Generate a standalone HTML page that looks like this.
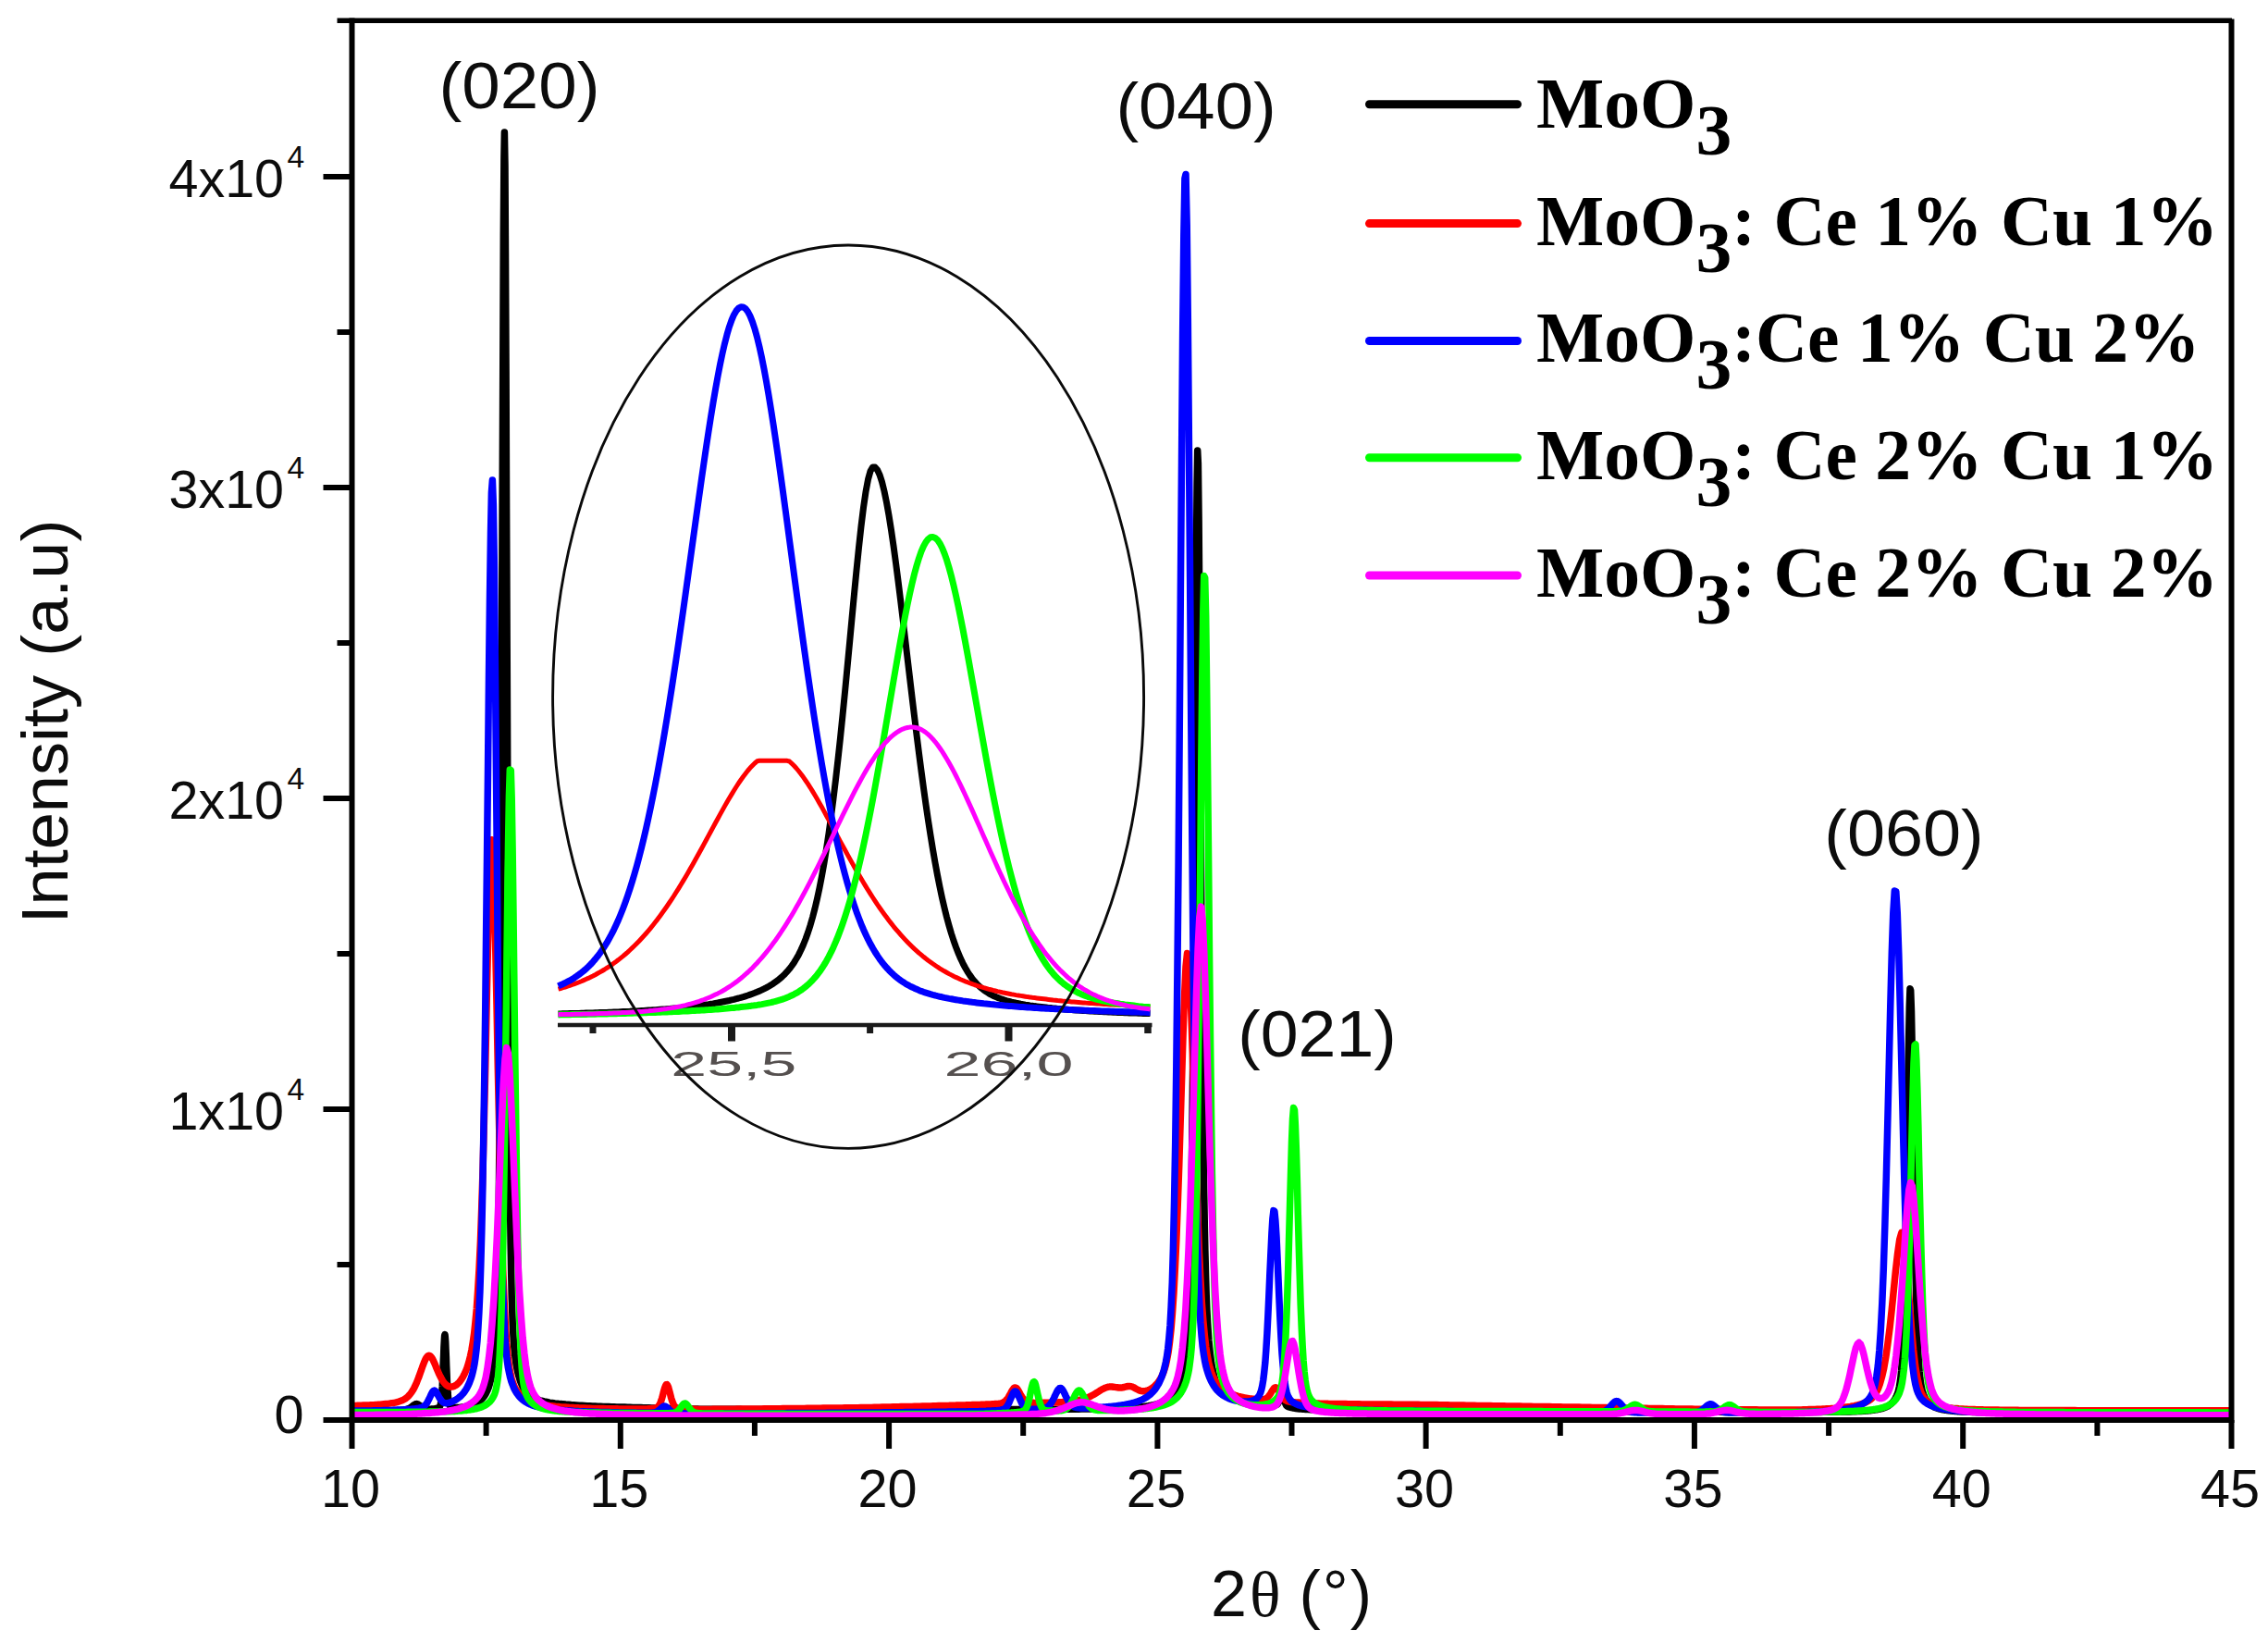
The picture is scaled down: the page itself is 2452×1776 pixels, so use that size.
<!DOCTYPE html>
<html lang="en"><head><meta charset="utf-8"><title>XRD patterns of MoO3 : Ce, Cu</title>
<style>html,body{margin:0;padding:0;background:#fff}svg{display:block}text{font-family:"Liberation Sans",Arial,sans-serif;fill:#0c0c0c}.lg{font-family:"Liberation Serif","Times New Roman",serif;font-weight:bold;font-size:77.6px;fill:#000}</style></head><body>
<svg width="2452" height="1776" viewBox="0 0 2452 1776">
<rect width="2452" height="1776" fill="#ffffff"/>
<g id="inset">
<path d="M603.5,1096.0 606.0,1095.9 608.5,1095.8 611.0,1095.8 613.5,1095.7 616.0,1095.6 618.5,1095.6 621.0,1095.5 623.5,1095.4 626.0,1095.4 628.5,1095.3 631.0,1095.2 633.5,1095.1 636.0,1095.1 638.5,1095.0 641.0,1094.9 643.5,1094.8 646.0,1094.7 648.5,1094.6 651.0,1094.6 653.5,1094.5 656.0,1094.4 658.5,1094.3 661.0,1094.2 663.5,1094.1 666.0,1094.0 668.5,1093.9 671.0,1093.7 673.5,1093.6 676.0,1093.5 678.5,1093.4 681.0,1093.3 683.5,1093.1 686.0,1093.0 688.5,1092.9 691.0,1092.7 693.5,1092.6 696.0,1092.5 698.5,1092.3 701.0,1092.1 703.5,1092.0 706.0,1091.8 708.5,1091.7 711.0,1091.5 713.5,1091.3 716.0,1091.1 718.5,1090.9 721.0,1090.7 723.5,1090.5 726.0,1090.3 728.5,1090.1 731.0,1089.9 733.5,1089.6 736.0,1089.4 738.5,1089.1 741.0,1088.9 743.5,1088.6 746.0,1088.3 748.5,1088.0 751.0,1087.7 753.5,1087.4 756.0,1087.1 758.5,1086.8 761.0,1086.4 763.5,1086.0 766.0,1085.7 768.5,1085.3 771.0,1084.9 773.5,1084.4 776.0,1084.0 778.5,1083.5 781.0,1083.0 783.5,1082.5 786.0,1082.0 788.5,1081.5 791.0,1080.9 793.5,1080.3 796.0,1079.6 798.5,1079.0 801.0,1078.3 803.5,1077.6 806.0,1076.8 808.5,1076.0 811.0,1075.1 813.5,1074.2 816.0,1073.3 818.5,1072.3 821.0,1071.2 823.5,1070.1 826.0,1068.9 828.5,1067.6 831.0,1066.2 833.5,1064.7 836.0,1063.2 838.5,1061.4 841.0,1059.6 843.5,1057.5 846.0,1055.3 848.5,1052.9 851.0,1050.2 853.5,1047.3 856.0,1044.0 858.5,1040.4 861.0,1036.3 863.5,1031.9 866.0,1026.8 868.5,1021.2 871.0,1015.0 873.5,1008.0 876.0,1000.3 878.5,991.6 881.0,982.0 883.5,971.4 886.0,959.7 888.5,946.9 891.0,932.8 893.5,917.4 896.0,900.8 898.5,882.7 901.0,863.4 903.5,842.7 906.0,820.7 908.5,797.5 911.0,773.2 913.5,748.0 916.0,721.9 918.5,695.4 921.0,668.7 923.5,642.2 926.0,616.4 928.5,591.8 931.0,569.0 933.5,548.8 936.0,531.7 938.5,518.3 941.0,509.3 943.5,504.9 946.0,505.0 948.5,507.8 951.0,513.2 953.5,520.9 956.0,531.0 958.5,543.1 961.0,557.2 963.5,572.9 966.0,590.1 968.5,608.4 971.0,627.8 973.5,647.9 976.0,668.6 978.5,689.6 981.0,710.8 983.5,732.0 986.0,753.1 988.5,773.9 991.0,794.2 993.5,814.1 996.0,833.3 998.5,851.9 1001.0,869.7 1003.5,886.7 1006.0,902.8 1008.5,918.1 1011.0,932.5 1013.5,946.0 1016.0,958.6 1018.5,970.4 1021.0,981.2 1023.5,991.3 1026.0,1000.5 1028.5,1009.0 1031.0,1016.8 1033.5,1023.8 1036.0,1030.2 1038.5,1036.1 1041.0,1041.3 1043.5,1046.0 1046.0,1050.3 1048.5,1054.1 1051.0,1057.6 1053.5,1060.7 1056.0,1063.4 1058.5,1065.9 1061.0,1068.1 1063.5,1070.1 1066.0,1071.8 1068.5,1073.4 1071.0,1074.9 1073.5,1076.2 1076.0,1077.3 1078.5,1078.4 1081.0,1079.3 1083.5,1080.2 1086.0,1081.0 1088.5,1081.8 1091.0,1082.4 1093.5,1083.1 1096.0,1083.6 1098.5,1084.2 1101.0,1084.7 1103.5,1085.2 1106.0,1085.6 1108.5,1086.1 1111.0,1086.5 1113.5,1086.9 1116.0,1087.2 1118.5,1087.6 1121.0,1087.9 1123.5,1088.2 1126.0,1088.5 1128.5,1088.8 1131.0,1089.1 1133.5,1089.4 1136.0,1089.6 1138.5,1089.9 1141.0,1090.1 1143.5,1090.4 1146.0,1090.6 1148.5,1090.8 1151.0,1091.0 1153.5,1091.2 1156.0,1091.4 1158.5,1091.6 1161.0,1091.8 1163.5,1092.0 1166.0,1092.1 1168.5,1092.3 1171.0,1092.5 1173.5,1092.6 1176.0,1092.8 1178.5,1092.9 1181.0,1093.1 1183.5,1093.2 1186.0,1093.3 1188.5,1093.5 1191.0,1093.6 1193.5,1093.7 1196.0,1093.8 1198.5,1094.0 1201.0,1094.1 1203.5,1094.2 1206.0,1094.3 1208.5,1094.4 1211.0,1094.5 1213.5,1094.6 1216.0,1094.7 1218.5,1094.8 1221.0,1094.9 1223.5,1095.0 1226.0,1095.1 1228.5,1095.1 1231.0,1095.2 1233.5,1095.3 1236.0,1095.4 1238.5,1095.5 1241.0,1095.5 1243.5,1095.6" fill="none" stroke="#000000" stroke-width="7.0" stroke-linejoin="round"/>
<path d="M603.5,1069.2 606.0,1068.5 608.5,1067.7 611.0,1067.0 613.5,1066.2 616.0,1065.4 618.5,1064.5 621.0,1063.6 623.5,1062.7 626.0,1061.7 628.5,1060.7 631.0,1059.6 633.5,1058.5 636.0,1057.4 638.5,1056.2 641.0,1055.0 643.5,1053.7 646.0,1052.3 648.5,1050.9 651.0,1049.5 653.5,1048.0 656.0,1046.4 658.5,1044.8 661.0,1043.1 663.5,1041.3 666.0,1039.5 668.5,1037.6 671.0,1035.6 673.5,1033.6 676.0,1031.5 678.5,1029.3 681.0,1027.0 683.5,1024.7 686.0,1022.3 688.5,1019.8 691.0,1017.2 693.5,1014.5 696.0,1011.8 698.5,1009.0 701.0,1006.1 703.5,1003.1 706.0,1000.0 708.5,996.8 711.0,993.6 713.5,990.2 716.0,986.8 718.5,983.3 721.0,979.7 723.5,976.0 726.0,972.3 728.5,968.5 731.0,964.5 733.5,960.6 736.0,956.5 738.5,952.4 741.0,948.2 743.5,943.9 746.0,939.6 748.5,935.2 751.0,930.8 753.5,926.3 756.0,921.8 758.5,917.2 761.0,912.6 763.5,908.0 766.0,903.4 768.5,898.8 771.0,894.1 773.5,889.5 776.0,885.0 778.5,880.4 781.0,875.9 783.5,871.4 786.0,867.1 788.5,862.8 791.0,858.6 793.5,854.5 796.0,850.5 798.5,846.7 801.0,843.0 803.5,839.5 806.0,836.2 808.5,833.0 811.0,830.1 813.5,827.5 816.0,825.0 818.5,822.8 821.0,822.3 823.5,822.3 826.0,822.3 828.5,822.3 831.0,822.3 833.5,822.3 836.0,822.3 838.5,822.3 841.0,822.3 843.5,822.3 846.0,822.3 848.5,822.3 851.0,822.3 853.5,823.0 856.0,825.3 858.5,827.8 861.0,830.5 863.5,833.5 866.0,836.7 868.5,840.1 871.0,843.7 873.5,847.4 876.0,851.3 878.5,855.4 881.0,859.5 883.5,863.8 886.0,868.2 888.5,872.6 891.0,877.1 893.5,881.7 896.0,886.3 898.5,890.9 901.0,895.6 903.5,900.3 906.0,904.9 908.5,909.6 911.0,914.2 913.5,918.8 916.0,923.4 918.5,927.9 921.0,932.4 923.5,936.9 926.0,941.3 928.5,945.6 931.0,949.8 933.5,954.0 936.0,958.1 938.5,962.2 941.0,966.1 943.5,970.0 946.0,973.8 948.5,977.6 951.0,981.2 953.5,984.8 956.0,988.2 958.5,991.6 961.0,994.9 963.5,998.1 966.0,1001.3 968.5,1004.3 971.0,1007.2 973.5,1010.1 976.0,1012.9 978.5,1015.6 981.0,1018.2 983.5,1020.7 986.0,1023.2 988.5,1025.6 991.0,1027.8 993.5,1030.1 996.0,1032.2 998.5,1034.3 1001.0,1036.3 1003.5,1038.2 1006.0,1040.0 1008.5,1041.8 1011.0,1043.5 1013.5,1045.2 1016.0,1046.8 1018.5,1048.3 1021.0,1049.8 1023.5,1051.2 1026.0,1052.6 1028.5,1053.9 1031.0,1055.2 1033.5,1056.4 1036.0,1057.5 1038.5,1058.7 1041.0,1059.7 1043.5,1060.8 1046.0,1061.7 1048.5,1062.7 1051.0,1063.6 1053.5,1064.5 1056.0,1065.3 1058.5,1066.1 1061.0,1066.9 1063.5,1067.7 1066.0,1068.4 1068.5,1069.1 1071.0,1069.7 1073.5,1070.4 1076.0,1071.0 1078.5,1071.6 1081.0,1072.1 1083.5,1072.7 1086.0,1073.2 1088.5,1073.7 1091.0,1074.2 1093.5,1074.7 1096.0,1075.1 1098.5,1075.6 1101.0,1076.0 1103.5,1076.4 1106.0,1076.8 1108.5,1077.2 1111.0,1077.6 1113.5,1077.9 1116.0,1078.3 1118.5,1078.6 1121.0,1078.9 1123.5,1079.2 1126.0,1079.5 1128.5,1079.8 1131.0,1080.1 1133.5,1080.4 1136.0,1080.7 1138.5,1081.0 1141.0,1081.2 1143.5,1081.5 1146.0,1081.7 1148.5,1082.0 1151.0,1082.2 1153.5,1082.4 1156.0,1082.6 1158.5,1082.9 1161.0,1083.1 1163.5,1083.3 1166.0,1083.5 1168.5,1083.7 1171.0,1083.9 1173.5,1084.1 1176.0,1084.2 1178.5,1084.4 1181.0,1084.6 1183.5,1084.8 1186.0,1084.9 1188.5,1085.1 1191.0,1085.3 1193.5,1085.4 1196.0,1085.6 1198.5,1085.7 1201.0,1085.9 1203.5,1086.0 1206.0,1086.2 1208.5,1086.3 1211.0,1086.5 1213.5,1086.6 1216.0,1086.7 1218.5,1086.9 1221.0,1087.0 1223.5,1087.1 1226.0,1087.3 1228.5,1087.4 1231.0,1087.5 1233.5,1087.6 1236.0,1087.7 1238.5,1087.8 1241.0,1088.0 1243.5,1088.1" fill="none" stroke="#ff0000" stroke-width="5.0" stroke-linejoin="round"/>
<path d="M603.5,1065.9 606.0,1064.8 608.5,1063.7 611.0,1062.5 613.5,1061.2 616.0,1059.9 618.5,1058.4 621.0,1056.9 623.5,1055.2 626.0,1053.4 628.5,1051.5 631.0,1049.5 633.5,1047.3 636.0,1045.0 638.5,1042.5 641.0,1039.8 643.5,1036.9 646.0,1033.8 648.5,1030.5 651.0,1027.0 653.5,1023.2 656.0,1019.2 658.5,1014.8 661.0,1010.2 663.5,1005.3 666.0,1000.0 668.5,994.5 671.0,988.5 673.5,982.2 676.0,975.5 678.5,968.4 681.0,960.9 683.5,952.9 686.0,944.5 688.5,935.7 691.0,926.4 693.5,916.6 696.0,906.3 698.5,895.6 701.0,884.3 703.5,872.6 706.0,860.3 708.5,847.6 711.0,834.4 713.5,820.7 716.0,806.5 718.5,791.9 721.0,776.8 723.5,761.3 726.0,745.4 728.5,729.1 731.0,712.4 733.5,695.5 736.0,678.2 738.5,660.7 741.0,643.0 743.5,625.1 746.0,607.1 748.5,589.1 751.0,571.0 753.5,553.1 756.0,535.2 758.5,517.6 761.0,500.3 763.5,483.3 766.0,466.8 768.5,450.8 771.0,435.4 773.5,420.8 776.0,407.0 778.5,394.0 781.0,382.1 783.5,371.3 786.0,361.6 788.5,353.1 791.0,346.0 793.5,340.2 796.0,335.9 798.5,333.1 801.0,331.7 803.5,331.9 806.0,333.6 808.5,336.9 811.0,341.6 813.5,347.9 816.0,355.5 818.5,364.5 821.0,374.8 823.5,386.3 826.0,398.8 828.5,412.4 831.0,426.9 833.5,442.3 836.0,458.3 838.5,475.0 841.0,492.3 843.5,510.0 846.0,528.0 848.5,546.4 851.0,564.9 853.5,583.6 856.0,602.3 858.5,621.0 861.0,639.6 863.5,658.1 866.0,676.4 868.5,694.5 871.0,712.3 873.5,729.7 876.0,746.8 878.5,763.5 881.0,779.8 883.5,795.6 886.0,810.9 888.5,825.8 891.0,840.1 893.5,853.9 896.0,867.2 898.5,879.9 901.0,892.1 903.5,903.8 906.0,914.9 908.5,925.5 911.0,935.6 913.5,945.2 916.0,954.2 918.5,962.8 921.0,970.9 923.5,978.5 926.0,985.7 928.5,992.4 931.0,998.8 933.5,1004.7 936.0,1010.2 938.5,1015.4 941.0,1020.3 943.5,1024.8 946.0,1029.0 948.5,1032.9 951.0,1036.6 953.5,1040.0 956.0,1043.1 958.5,1046.0 961.0,1048.7 963.5,1051.2 966.0,1053.6 968.5,1055.7 971.0,1057.7 973.5,1059.6 976.0,1061.3 978.5,1062.9 981.0,1064.4 983.5,1065.8 986.0,1067.0 988.5,1068.2 991.0,1069.3 993.5,1070.4 996.0,1071.4 998.5,1072.3 1001.0,1073.1 1003.5,1073.9 1006.0,1074.7 1008.5,1075.4 1011.0,1076.0 1013.5,1076.7 1016.0,1077.3 1018.5,1077.8 1021.0,1078.4 1023.5,1078.9 1026.0,1079.4 1028.5,1079.8 1031.0,1080.3 1033.5,1080.7 1036.0,1081.1 1038.5,1081.5 1041.0,1081.9 1043.5,1082.2 1046.0,1082.6 1048.5,1082.9 1051.0,1083.3 1053.5,1083.6 1056.0,1083.9 1058.5,1084.2 1061.0,1084.5 1063.5,1084.8 1066.0,1085.0 1068.5,1085.3 1071.0,1085.6 1073.5,1085.8 1076.0,1086.1 1078.5,1086.3 1081.0,1086.5 1083.5,1086.7 1086.0,1087.0 1088.5,1087.2 1091.0,1087.4 1093.5,1087.6 1096.0,1087.8 1098.5,1088.0 1101.0,1088.2 1103.5,1088.4 1106.0,1088.5 1108.5,1088.7 1111.0,1088.9 1113.5,1089.1 1116.0,1089.2 1118.5,1089.4 1121.0,1089.6 1123.5,1089.7 1126.0,1089.9 1128.5,1090.0 1131.0,1090.2 1133.5,1090.3 1136.0,1090.4 1138.5,1090.6 1141.0,1090.7 1143.5,1090.8 1146.0,1091.0 1148.5,1091.1 1151.0,1091.2 1153.5,1091.3 1156.0,1091.4 1158.5,1091.6 1161.0,1091.7 1163.5,1091.8 1166.0,1091.9 1168.5,1092.0 1171.0,1092.1 1173.5,1092.2 1176.0,1092.3 1178.5,1092.4 1181.0,1092.5 1183.5,1092.6 1186.0,1092.7 1188.5,1092.8 1191.0,1092.9 1193.5,1093.0 1196.0,1093.0 1198.5,1093.1 1201.0,1093.2 1203.5,1093.3 1206.0,1093.4 1208.5,1093.5 1211.0,1093.5 1213.5,1093.6 1216.0,1093.7 1218.5,1093.8 1221.0,1093.8 1223.5,1093.9 1226.0,1094.0 1228.5,1094.0 1231.0,1094.1 1233.5,1094.2 1236.0,1094.2 1238.5,1094.3 1241.0,1094.4 1243.5,1094.4" fill="none" stroke="#0000ff" stroke-width="7.0" stroke-linejoin="round"/>
<path d="M603.5,1096.9 606.0,1096.8 608.5,1096.8 611.0,1096.8 613.5,1096.7 616.0,1096.7 618.5,1096.6 621.0,1096.6 623.5,1096.5 626.0,1096.5 628.5,1096.5 631.0,1096.4 633.5,1096.4 636.0,1096.3 638.5,1096.3 641.0,1096.2 643.5,1096.2 646.0,1096.1 648.5,1096.1 651.0,1096.0 653.5,1095.9 656.0,1095.9 658.5,1095.8 661.0,1095.8 663.5,1095.7 666.0,1095.7 668.5,1095.6 671.0,1095.5 673.5,1095.5 676.0,1095.4 678.5,1095.3 681.0,1095.3 683.5,1095.2 686.0,1095.1 688.5,1095.0 691.0,1095.0 693.5,1094.9 696.0,1094.8 698.5,1094.7 701.0,1094.6 703.5,1094.6 706.0,1094.5 708.5,1094.4 711.0,1094.3 713.5,1094.2 716.0,1094.1 718.5,1094.0 721.0,1093.9 723.5,1093.8 726.0,1093.7 728.5,1093.6 731.0,1093.5 733.5,1093.4 736.0,1093.2 738.5,1093.1 741.0,1093.0 743.5,1092.9 746.0,1092.7 748.5,1092.6 751.0,1092.5 753.5,1092.3 756.0,1092.2 758.5,1092.0 761.0,1091.9 763.5,1091.7 766.0,1091.6 768.5,1091.4 771.0,1091.2 773.5,1091.1 776.0,1090.9 778.5,1090.7 781.0,1090.5 783.5,1090.3 786.0,1090.1 788.5,1089.8 791.0,1089.6 793.5,1089.4 796.0,1089.1 798.5,1088.9 801.0,1088.6 803.5,1088.3 806.0,1088.1 808.5,1087.8 811.0,1087.4 813.5,1087.1 816.0,1086.7 818.5,1086.4 821.0,1086.0 823.5,1085.6 826.0,1085.1 828.5,1084.6 831.0,1084.1 833.5,1083.6 836.0,1083.0 838.5,1082.3 841.0,1081.6 843.5,1080.9 846.0,1080.1 848.5,1079.2 851.0,1078.2 853.5,1077.2 856.0,1076.0 858.5,1074.8 861.0,1073.4 863.5,1071.9 866.0,1070.3 868.5,1068.5 871.0,1066.5 873.5,1064.4 876.0,1062.0 878.5,1059.5 881.0,1056.7 883.5,1053.7 886.0,1050.4 888.5,1046.8 891.0,1042.9 893.5,1038.7 896.0,1034.1 898.5,1029.2 901.0,1023.9 903.5,1018.2 906.0,1012.1 908.5,1005.6 911.0,998.6 913.5,991.2 916.0,983.3 918.5,974.9 921.0,966.0 923.5,956.6 926.0,946.8 928.5,936.4 931.0,925.6 933.5,914.3 936.0,902.5 938.5,890.3 941.0,877.6 943.5,864.6 946.0,851.2 948.5,837.4 951.0,823.4 953.5,809.1 956.0,794.6 958.5,780.0 961.0,765.3 963.5,750.6 966.0,736.0 968.5,721.5 971.0,707.2 973.5,693.2 976.0,679.6 978.5,666.4 981.0,653.9 983.5,642.0 986.0,630.9 988.5,620.7 991.0,611.5 993.5,603.3 996.0,596.2 998.5,590.4 1001.0,585.9 1003.5,582.7 1006.0,580.8 1008.5,580.4 1011.0,581.4 1013.5,583.6 1016.0,587.2 1018.5,592.0 1021.0,598.1 1023.5,605.2 1026.0,613.5 1028.5,622.7 1031.0,632.8 1033.5,643.7 1036.0,655.3 1038.5,667.6 1041.0,680.3 1043.5,693.5 1046.0,707.0 1048.5,720.8 1051.0,734.8 1053.5,748.9 1056.0,763.0 1058.5,777.1 1061.0,791.1 1063.5,805.0 1066.0,818.8 1068.5,832.2 1071.0,845.5 1073.5,858.4 1076.0,870.9 1078.5,883.1 1081.0,895.0 1083.5,906.4 1086.0,917.4 1088.5,927.9 1091.0,938.1 1093.5,947.7 1096.0,957.0 1098.5,965.7 1101.0,974.1 1103.5,981.9 1106.0,989.4 1108.5,996.4 1111.0,1003.0 1113.5,1009.2 1116.0,1015.0 1118.5,1020.4 1121.0,1025.5 1123.5,1030.2 1126.0,1034.6 1128.5,1038.7 1131.0,1042.5 1133.5,1046.0 1136.0,1049.3 1138.5,1052.3 1141.0,1055.1 1143.5,1057.6 1146.0,1060.0 1148.5,1062.1 1151.0,1064.2 1153.5,1066.0 1156.0,1067.7 1158.5,1069.3 1161.0,1070.7 1163.5,1072.0 1166.0,1073.3 1168.5,1074.4 1171.0,1075.4 1173.5,1076.4 1176.0,1077.3 1178.5,1078.1 1181.0,1078.9 1183.5,1079.6 1186.0,1080.3 1188.5,1080.9 1191.0,1081.5 1193.5,1082.1 1196.0,1082.6 1198.5,1083.1 1201.0,1083.5 1203.5,1084.0 1206.0,1084.4 1208.5,1084.8 1211.0,1085.2 1213.5,1085.5 1216.0,1085.9 1218.5,1086.2 1221.0,1086.5 1223.5,1086.8 1226.0,1087.1 1228.5,1087.4 1231.0,1087.7 1233.5,1087.9 1236.0,1088.2 1238.5,1088.4 1241.0,1088.6 1243.5,1088.9" fill="none" stroke="#00ff00" stroke-width="7.0" stroke-linejoin="round"/>
<path d="M603.5,1096.7 606.0,1096.6 608.5,1096.6 611.0,1096.5 613.5,1096.5 616.0,1096.4 618.5,1096.4 621.0,1096.3 623.5,1096.3 626.0,1096.2 628.5,1096.2 631.0,1096.1 633.5,1096.1 636.0,1096.0 638.5,1095.9 641.0,1095.9 643.5,1095.8 646.0,1095.7 648.5,1095.6 651.0,1095.6 653.5,1095.5 656.0,1095.4 658.5,1095.3 661.0,1095.2 663.5,1095.1 666.0,1095.0 668.5,1094.9 671.0,1094.8 673.5,1094.6 676.0,1094.5 678.5,1094.4 681.0,1094.2 683.5,1094.1 686.0,1093.9 688.5,1093.8 691.0,1093.6 693.5,1093.4 696.0,1093.2 698.5,1093.0 701.0,1092.8 703.5,1092.5 706.0,1092.3 708.5,1092.0 711.0,1091.7 713.5,1091.4 716.0,1091.1 718.5,1090.7 721.0,1090.4 723.5,1090.0 726.0,1089.6 728.5,1089.2 731.0,1088.7 733.5,1088.2 736.0,1087.7 738.5,1087.1 741.0,1086.6 743.5,1085.9 746.0,1085.3 748.5,1084.6 751.0,1083.9 753.5,1083.1 756.0,1082.3 758.5,1081.4 761.0,1080.5 763.5,1079.5 766.0,1078.5 768.5,1077.5 771.0,1076.3 773.5,1075.1 776.0,1073.9 778.5,1072.6 781.0,1071.2 783.5,1069.8 786.0,1068.2 788.5,1066.6 791.0,1065.0 793.5,1063.2 796.0,1061.4 798.5,1059.5 801.0,1057.5 803.5,1055.4 806.0,1053.2 808.5,1051.0 811.0,1048.6 813.5,1046.2 816.0,1043.6 818.5,1041.0 821.0,1038.2 823.5,1035.4 826.0,1032.4 828.5,1029.4 831.0,1026.3 833.5,1023.0 836.0,1019.6 838.5,1016.2 841.0,1012.6 843.5,1009.0 846.0,1005.2 848.5,1001.3 851.0,997.4 853.5,993.3 856.0,989.2 858.5,984.9 861.0,980.6 863.5,976.2 866.0,971.6 868.5,967.0 871.0,962.4 873.5,957.6 876.0,952.8 878.5,947.9 881.0,943.0 883.5,938.0 886.0,933.0 888.5,927.9 891.0,922.8 893.5,917.6 896.0,912.5 898.5,907.3 901.0,902.1 903.5,896.9 906.0,891.7 908.5,886.6 911.0,881.4 913.5,876.3 916.0,871.3 918.5,866.3 921.0,861.3 923.5,856.4 926.0,851.7 928.5,847.0 931.0,842.4 933.5,837.9 936.0,833.5 938.5,829.3 941.0,825.2 943.5,821.3 946.0,817.5 948.5,813.9 951.0,810.5 953.5,807.3 956.0,804.2 958.5,801.4 961.0,798.8 963.5,796.4 966.0,794.3 968.5,792.4 971.0,790.7 973.5,789.3 976.0,788.1 978.5,787.2 981.0,786.5 983.5,786.1 986.0,786.0 988.5,786.2 991.0,786.7 993.5,787.5 996.0,788.6 998.5,790.1 1001.0,791.8 1003.5,793.9 1006.0,796.3 1008.5,798.9 1011.0,801.8 1013.5,805.0 1016.0,808.5 1018.5,812.2 1021.0,816.1 1023.5,820.2 1026.0,824.5 1028.5,829.0 1031.0,833.7 1033.5,838.5 1036.0,843.5 1038.5,848.6 1041.0,853.8 1043.5,859.2 1046.0,864.6 1048.5,870.1 1051.0,875.6 1053.5,881.2 1056.0,886.9 1058.5,892.6 1061.0,898.2 1063.5,903.9 1066.0,909.6 1068.5,915.3 1071.0,920.9 1073.5,926.5 1076.0,932.1 1078.5,937.6 1081.0,943.0 1083.5,948.4 1086.0,953.7 1088.5,958.9 1091.0,964.0 1093.5,969.1 1096.0,974.0 1098.5,978.8 1101.0,983.6 1103.5,988.2 1106.0,992.7 1108.5,997.1 1111.0,1001.4 1113.5,1005.5 1116.0,1009.5 1118.5,1013.5 1121.0,1017.2 1123.5,1020.9 1126.0,1024.4 1128.5,1027.9 1131.0,1031.2 1133.5,1034.3 1136.0,1037.4 1138.5,1040.3 1141.0,1043.2 1143.5,1045.9 1146.0,1048.5 1148.5,1050.9 1151.0,1053.3 1153.5,1055.6 1156.0,1057.8 1158.5,1059.8 1161.0,1061.8 1163.5,1063.7 1166.0,1065.5 1168.5,1067.2 1171.0,1068.8 1173.5,1070.3 1176.0,1071.7 1178.5,1073.1 1181.0,1074.4 1183.5,1075.6 1186.0,1076.8 1188.5,1077.9 1191.0,1078.9 1193.5,1079.9 1196.0,1080.8 1198.5,1081.7 1201.0,1082.5 1203.5,1083.3 1206.0,1084.0 1208.5,1084.7 1211.0,1085.4 1213.5,1086.0 1216.0,1086.5 1218.5,1087.1 1221.0,1087.6 1223.5,1088.0 1226.0,1088.5 1228.5,1088.9 1231.0,1089.3 1233.5,1089.7 1236.0,1090.0 1238.5,1090.3 1241.0,1090.6 1243.5,1090.9" fill="none" stroke="#ff00ff" stroke-width="5.0" stroke-linejoin="round"/>
<line x1="603.0" y1="1108" x2="1245.5" y2="1108" stroke="#1a1a1a" stroke-width="4.6"/>
<line x1="641.0" y1="1108" x2="641.0" y2="1117.0" stroke="#1a1a1a" stroke-width="7.0"/>
<line x1="791.0" y1="1108" x2="791.0" y2="1125.5" stroke="#1a1a1a" stroke-width="8.0"/>
<line x1="940.6" y1="1108" x2="940.6" y2="1117.0" stroke="#1a1a1a" stroke-width="7.0"/>
<line x1="1090.5" y1="1108" x2="1090.5" y2="1125.5" stroke="#1a1a1a" stroke-width="8.0"/>
<line x1="1241.0" y1="1108" x2="1241.0" y2="1117.0" stroke="#1a1a1a" stroke-width="7.5"/>
<text transform="translate(793.3,1163) scale(1.94,1)" text-anchor="middle" font-size="36" style="fill:#55504f">25,5</text>
<text transform="translate(1090.5,1163) scale(2.0,1)" text-anchor="middle" font-size="36" style="fill:#55504f">26,0</text>
<ellipse cx="917.1" cy="753.2" rx="319.5" ry="488.2" fill="none" stroke="#0a0a0a" stroke-width="2.9"/>
</g>
<g id="curves">
<path d="M380.5,1525.3 381.5,1525.3 382.4,1525.2 383.4,1525.2 384.4,1525.2 385.3,1525.2 386.3,1525.2 387.3,1525.2 388.2,1525.2 389.2,1525.2 390.2,1525.2 391.1,1525.2 392.1,1525.2 393.1,1525.1 394.0,1525.1 395.0,1525.1 396.0,1525.1 396.9,1525.1 397.9,1525.1 398.9,1525.1 399.9,1525.1 400.8,1525.1 401.8,1525.1 402.8,1525.0 403.7,1525.0 404.7,1525.0 405.7,1525.0 406.6,1525.0 407.6,1525.0 408.6,1525.0 409.5,1525.0 410.5,1524.9 411.5,1524.9 412.4,1524.9 413.4,1524.9 414.4,1524.9 415.3,1524.9 416.3,1524.9 417.3,1524.8 418.2,1524.8 419.2,1524.8 420.2,1524.8 421.1,1524.8 422.1,1524.7 423.1,1524.7 424.0,1524.7 425.0,1524.7 426.0,1524.6 426.9,1524.6 427.9,1524.6 428.9,1524.5 429.8,1524.5 430.8,1524.5 431.8,1524.4 432.8,1524.4 433.7,1524.3 434.7,1524.2 435.7,1524.2 436.6,1524.1 437.6,1523.9 438.6,1523.7 439.5,1523.5 440.5,1523.2 441.5,1522.8 442.4,1522.3 443.4,1521.8 444.4,1521.1 445.3,1520.4 446.3,1519.6 447.3,1518.9 448.2,1518.3 449.2,1517.8 450.2,1517.6 451.1,1517.7 452.1,1518.1 453.1,1518.7 454.0,1519.4 455.0,1520.1 456.0,1520.8 456.9,1521.4 457.3,1521.6 457.6,1521.8 458.0,1521.9 458.3,1522.1 458.7,1522.2 459.0,1522.3 459.4,1522.5 459.7,1522.6 460.1,1522.7 460.4,1522.8 460.8,1522.8 461.1,1522.9 461.5,1523.0 461.8,1523.0 462.2,1523.0 462.5,1523.1 462.9,1523.1 463.2,1523.1 463.6,1523.2 463.9,1523.2 464.3,1523.2 464.6,1523.2 465.0,1523.2 465.3,1523.2 465.7,1523.2 466.0,1523.2 466.3,1523.1 466.7,1523.1 467.0,1523.1 467.4,1523.1 467.7,1523.1 468.1,1523.0 468.4,1523.0 468.8,1523.0 469.1,1522.9 469.5,1522.9 469.8,1522.8 470.2,1522.8 470.5,1522.7 470.9,1522.6 471.2,1522.6 471.6,1522.5 471.9,1522.4 472.3,1522.3 472.6,1522.2 473.0,1522.1 473.3,1521.9 473.7,1521.8 474.0,1521.6 474.4,1521.3 474.7,1521.1 475.1,1520.7 475.4,1520.3 475.8,1519.6 476.1,1518.7 476.4,1517.4 476.8,1515.5 477.1,1512.9 477.5,1509.4 477.8,1504.8 478.2,1498.9 478.5,1491.8 478.9,1483.5 479.2,1474.4 479.6,1465.0 479.9,1456.2 480.3,1448.9 480.6,1444.0 481.0,1442.6 481.3,1444.8 481.7,1450.2 482.0,1458.0 482.4,1467.0 482.7,1476.3 483.1,1485.2 483.4,1493.2 483.8,1500.0 484.1,1505.6 484.5,1509.9 484.8,1513.2 485.2,1515.5 485.5,1517.2 485.9,1518.4 486.2,1519.2 486.6,1519.8 486.9,1520.2 487.2,1520.4 487.6,1520.7 487.9,1520.8 488.3,1521.0 488.6,1521.1 489.0,1521.2 489.3,1521.3 489.7,1521.4 490.0,1521.4 490.4,1521.5 490.7,1521.5 491.1,1521.5 491.4,1521.6 491.8,1521.6 492.1,1521.6 492.5,1521.6 492.8,1521.6 493.2,1521.6 493.5,1521.6 493.9,1521.6 494.2,1521.6 494.6,1521.6 494.9,1521.5 495.3,1521.5 495.6,1521.5 496.0,1521.5 496.3,1521.5 496.7,1521.4 497.0,1521.4 497.3,1521.4 497.7,1521.3 498.0,1521.3 498.4,1521.3 498.7,1521.2 499.1,1521.2 499.4,1521.1 499.8,1521.1 500.1,1521.0 500.5,1521.0 500.8,1520.9 501.2,1520.9 501.5,1520.8 501.9,1520.8 502.2,1520.7 502.6,1520.7 502.9,1520.6 503.3,1520.5 503.6,1520.5 504.0,1520.4 504.3,1520.3 504.7,1520.2 505.0,1520.2 505.4,1520.1 505.9,1520.0 506.5,1519.8 507.0,1519.7 507.6,1519.5 508.1,1519.4 508.7,1519.2 509.3,1519.1 509.8,1518.9 510.4,1518.7 510.9,1518.5 511.5,1518.3 512.0,1518.1 512.6,1517.8 513.2,1517.6 513.7,1517.3 514.3,1517.1 514.8,1516.8 515.4,1516.5 515.9,1516.2 516.5,1515.8 517.0,1515.5 517.6,1515.1 518.2,1514.7 518.7,1514.3 519.3,1513.8 519.8,1513.3 520.4,1512.8 520.9,1512.3 521.5,1511.7 522.1,1511.1 522.6,1510.4 523.2,1509.7 523.7,1508.9 524.3,1508.1 524.8,1507.2 525.4,1506.2 525.9,1505.1 526.5,1504.0 527.1,1502.7 527.6,1501.4 528.2,1499.9 528.7,1498.2 529.3,1496.4 529.8,1494.4 530.4,1492.2 531.0,1489.8 531.5,1487.1 532.1,1484.0 532.6,1480.6 533.2,1476.7 533.7,1472.3 534.3,1467.2 534.8,1461.1 535.4,1453.9 536.0,1445.0 536.5,1433.8 537.1,1419.4 537.6,1400.3 538.2,1374.8 538.7,1340.8 539.3,1295.6 539.9,1236.6 540.4,1161.2 541.0,1067.5 541.5,954.8 542.1,824.3 542.6,679.7 543.2,528.2 543.8,381.3 544.3,255.6 544.9,170.6 545.4,143.1 546.0,179.2 546.5,271.1 547.1,400.9 547.6,549.3 548.2,700.4 548.8,843.4 549.3,971.3 549.9,1081.1 550.4,1171.8 551.0,1244.5 551.5,1301.1 552.1,1344.3 552.7,1376.6 553.2,1400.7 553.8,1418.8 554.3,1432.4 554.9,1442.9 555.4,1451.2 556.0,1457.9 556.5,1463.4 557.1,1468.1 557.7,1472.2 558.2,1475.7 558.8,1478.7 559.3,1481.4 559.9,1483.7 560.4,1485.8 561.0,1488.0 561.6,1490.0 562.1,1491.7 562.7,1493.4 563.2,1494.9 563.8,1496.2 564.3,1497.5 564.9,1498.6 565.5,1499.7 566.0,1500.7 566.6,1501.6 567.1,1502.5 567.7,1503.2 568.2,1504.0 568.8,1504.7 569.3,1505.3 569.9,1505.9 570.5,1506.5 571.0,1507.0 571.6,1507.5 572.1,1507.9 572.7,1508.4 573.2,1508.8 573.8,1509.2 574.4,1509.6 574.9,1509.9 575.5,1510.2 576.0,1510.6 576.6,1510.9 577.1,1511.2 577.7,1511.4 578.2,1511.7 578.8,1511.9 579.4,1512.2 579.9,1512.4 580.5,1512.6 581.0,1512.8 581.6,1513.0 582.1,1513.2 582.7,1513.4 583.3,1513.6 583.8,1513.8 584.4,1513.9 584.9,1514.1 585.5,1514.2 588.4,1514.9 591.3,1515.5 594.2,1516.1 597.1,1516.5 600.0,1516.9 602.9,1517.2 605.8,1517.6 608.7,1517.8 611.6,1518.1 614.5,1518.3 617.4,1518.6 620.3,1518.8 623.2,1519.0 626.1,1519.2 629.0,1519.3 631.9,1519.5 634.8,1519.7 637.7,1519.8 640.6,1520.0 643.5,1520.1 646.4,1520.2 649.3,1520.3 652.2,1520.4 655.1,1520.5 658.1,1520.6 661.0,1520.7 663.9,1520.8 666.8,1520.9 669.7,1521.0 672.6,1521.0 675.5,1521.1 678.4,1521.2 681.3,1521.3 684.2,1521.4 687.1,1521.4 690.0,1521.5 692.9,1521.6 695.8,1521.7 698.7,1521.8 701.6,1521.8 704.5,1521.9 707.4,1522.0 710.3,1522.1 713.2,1522.1 716.1,1522.2 719.0,1522.3 721.9,1522.3 724.8,1522.4 727.7,1522.5 730.6,1522.5 733.5,1522.6 736.4,1522.7 739.3,1522.8 742.2,1522.8 745.1,1522.9 748.0,1523.0 750.9,1523.0 753.8,1523.1 756.7,1523.2 759.7,1523.2 762.6,1523.2 765.5,1523.2 768.4,1523.2 771.3,1523.2 774.2,1523.3 777.1,1523.3 780.0,1523.3 782.9,1523.3 785.8,1523.3 788.7,1523.3 791.6,1523.3 794.5,1523.3 797.4,1523.3 800.3,1523.3 803.2,1523.4 806.1,1523.4 809.0,1523.4 811.9,1523.4 814.8,1523.4 817.7,1523.4 820.6,1523.4 823.5,1523.4 826.4,1523.4 829.3,1523.4 832.2,1523.4 835.1,1523.4 838.0,1523.5 840.9,1523.5 843.8,1523.5 846.7,1523.5 849.6,1523.5 852.5,1523.5 855.4,1523.5 858.3,1523.5 861.3,1523.5 864.2,1523.5 867.1,1523.5 870.0,1523.5 872.9,1523.5 875.8,1523.6 878.7,1523.6 881.6,1523.6 884.5,1523.6 887.4,1523.6 890.3,1523.6 893.2,1523.6 896.1,1523.6 899.0,1523.6 901.9,1523.6 904.8,1523.6 907.7,1523.6 910.6,1523.6 913.5,1523.7 916.4,1523.7 919.3,1523.7 922.2,1523.7 925.1,1523.7 928.0,1523.7 930.9,1523.7 933.8,1523.7 936.7,1523.7 939.6,1523.7 942.5,1523.7 945.4,1523.7 948.3,1523.7 951.2,1523.7 954.1,1523.7 957.0,1523.7 959.9,1523.8 962.9,1523.8 965.8,1523.8 968.7,1523.8 971.6,1523.8 974.5,1523.7 977.4,1523.7 980.3,1523.7 983.2,1523.7 986.1,1523.7 989.0,1523.7 991.9,1523.7 994.8,1523.7 997.7,1523.7 1000.6,1523.7 1003.5,1523.7 1006.4,1523.7 1009.3,1523.7 1012.2,1523.7 1015.1,1523.7 1018.0,1523.7 1020.9,1523.7 1023.8,1523.7 1026.7,1523.7 1029.6,1523.7 1032.5,1523.7 1035.4,1523.7 1038.3,1523.7 1041.2,1523.7 1044.1,1523.7 1047.0,1523.7 1049.9,1523.7 1052.8,1523.7 1055.7,1523.7 1058.6,1523.7 1061.5,1523.7 1064.5,1523.7 1067.4,1523.6 1070.3,1523.6 1073.2,1523.6 1076.1,1523.6 1079.0,1523.6 1081.9,1523.6 1084.8,1523.6 1087.7,1523.6 1090.6,1523.6 1093.5,1523.6 1096.4,1523.6 1099.3,1523.6 1102.2,1523.6 1105.1,1523.5 1108.0,1523.5 1110.9,1523.5 1113.8,1523.5 1116.7,1523.5 1119.6,1523.5 1122.5,1523.5 1125.4,1523.5 1128.3,1523.5 1131.2,1523.4 1134.1,1523.4 1137.0,1523.4 1139.9,1523.4 1142.8,1523.4 1145.7,1523.3 1148.6,1523.3 1151.5,1523.3 1154.4,1523.3 1157.3,1523.3 1160.2,1523.2 1163.1,1523.2 1166.1,1523.2 1169.0,1523.1 1171.9,1523.1 1174.8,1523.1 1177.7,1523.0 1180.6,1523.0 1183.5,1522.9 1186.4,1522.9 1189.3,1522.8 1192.2,1522.8 1195.1,1522.7 1198.0,1522.6 1200.9,1522.5 1203.8,1522.4 1206.7,1522.3 1209.6,1522.2 1212.5,1522.1 1215.4,1522.0 1218.3,1521.8 1221.2,1521.7 1224.1,1521.5 1227.0,1521.3 1229.9,1521.1 1232.8,1520.8 1235.7,1520.5 1238.6,1520.1 1241.5,1519.7 1244.4,1519.2 1247.3,1518.6 1248.0,1518.5 1248.7,1518.3 1249.4,1518.1 1250.0,1518.0 1250.7,1517.8 1251.4,1517.6 1252.1,1517.4 1252.8,1517.2 1253.4,1517.0 1254.1,1516.7 1254.8,1516.5 1255.5,1516.3 1256.1,1516.0 1256.8,1515.7 1257.5,1515.4 1258.2,1515.1 1258.8,1514.8 1259.5,1514.4 1260.2,1514.1 1260.9,1513.7 1261.6,1513.3 1262.2,1512.8 1262.9,1512.3 1263.6,1511.8 1264.3,1511.3 1264.9,1510.8 1265.6,1510.2 1266.3,1509.5 1267.0,1508.8 1267.7,1508.1 1268.3,1507.3 1269.0,1506.4 1269.7,1505.5 1270.4,1504.5 1271.0,1503.4 1271.7,1502.2 1272.4,1500.9 1273.1,1499.5 1273.7,1498.0 1274.4,1496.3 1275.1,1494.5 1275.8,1492.5 1276.5,1490.2 1277.1,1487.7 1277.8,1485.0 1278.5,1481.9 1279.2,1478.4 1279.8,1474.5 1280.5,1470.1 1281.2,1465.0 1281.9,1459.2 1282.6,1452.3 1283.2,1444.3 1283.9,1434.5 1284.6,1422.6 1285.3,1407.8 1285.9,1389.2 1286.6,1365.4 1287.3,1335.0 1288.0,1296.3 1288.6,1247.5 1289.3,1187.0 1290.0,1113.5 1290.7,1026.5 1291.4,926.8 1292.0,817.6 1292.7,705.5 1293.4,602.2 1294.1,523.8 1294.7,487.0 1295.4,501.0 1296.1,562.2 1296.8,656.3 1297.5,766.1 1298.1,877.7 1298.8,982.4 1299.5,1075.4 1300.2,1155.1 1300.8,1221.4 1301.5,1275.3 1302.2,1318.4 1302.9,1352.4 1303.6,1379.0 1304.2,1399.9 1304.9,1416.3 1305.6,1429.4 1306.3,1440.0 1306.9,1448.8 1307.6,1456.2 1308.3,1462.4 1309.0,1467.8 1309.6,1472.6 1310.3,1476.7 1311.0,1480.4 1311.7,1483.6 1312.4,1486.5 1313.0,1489.1 1313.7,1491.5 1314.4,1493.6 1315.1,1495.5 1315.7,1497.1 1316.4,1498.5 1317.1,1499.7 1317.8,1500.8 1318.5,1501.8 1319.1,1502.8 1319.8,1503.6 1320.5,1504.3 1321.2,1505.0 1321.8,1505.6 1322.5,1506.2 1323.2,1506.7 1323.9,1507.1 1324.5,1507.5 1325.2,1507.9 1325.9,1508.2 1326.6,1508.5 1327.3,1508.9 1327.9,1509.4 1328.6,1509.8 1329.3,1510.2 1330.0,1510.6 1330.6,1511.0 1331.3,1511.3 1332.0,1511.6 1332.7,1511.9 1333.4,1512.2 1334.0,1512.5 1334.7,1512.8 1335.4,1513.0 1336.1,1513.3 1336.7,1513.5 1337.4,1513.7 1338.1,1513.9 1338.8,1514.1 1339.4,1514.3 1340.1,1514.5 1340.8,1514.7 1341.5,1514.9 1342.2,1515.0 1342.8,1515.2 1343.5,1515.3 1344.2,1515.5 1347.1,1516.0 1350.0,1516.5 1352.9,1516.9 1355.8,1517.3 1358.7,1517.6 1359.1,1517.6 1359.5,1517.7 1359.9,1517.7 1360.3,1517.8 1360.6,1517.8 1361.0,1517.8 1361.4,1517.9 1361.8,1517.9 1362.2,1517.9 1362.6,1518.0 1363.0,1518.0 1363.3,1518.0 1363.7,1518.1 1364.1,1518.1 1364.5,1518.1 1364.9,1518.2 1365.3,1518.2 1365.7,1518.2 1366.1,1518.2 1366.4,1518.3 1366.8,1518.3 1367.2,1518.3 1367.6,1518.3 1368.0,1518.4 1368.4,1518.4 1368.8,1518.4 1369.2,1518.4 1369.5,1518.5 1369.9,1518.5 1370.3,1518.5 1370.7,1518.5 1371.1,1518.6 1371.5,1518.6 1371.9,1518.6 1372.3,1518.6 1372.6,1518.6 1373.0,1518.6 1373.4,1518.7 1373.8,1518.7 1374.2,1518.7 1374.6,1518.7 1375.0,1518.7 1375.3,1518.7 1375.7,1518.7 1376.1,1518.7 1376.5,1518.7 1376.9,1518.7 1377.3,1518.7 1377.7,1518.7 1378.1,1518.7 1378.4,1518.7 1378.8,1518.6 1379.2,1518.6 1379.6,1518.5 1380.0,1518.4 1380.4,1518.3 1380.8,1518.1 1381.2,1517.8 1381.5,1517.3 1381.9,1516.7 1382.3,1516.0 1382.7,1515.0 1383.1,1513.8 1383.5,1512.3 1383.9,1510.6 1384.2,1508.8 1384.6,1507.0 1385.0,1505.4 1385.4,1504.1 1385.8,1503.3 1386.2,1503.3 1386.6,1504.0 1387.0,1505.3 1387.3,1506.9 1387.7,1508.9 1388.1,1510.8 1388.5,1512.7 1388.9,1514.4 1389.3,1515.8 1389.7,1517.0 1390.1,1518.0 1390.4,1518.7 1390.8,1519.3 1391.2,1519.7 1391.6,1520.0 1392.0,1520.3 1392.4,1520.5 1392.8,1520.6 1393.2,1520.8 1393.5,1520.9 1393.9,1521.0 1394.3,1521.1 1394.7,1521.2 1395.1,1521.3 1395.5,1521.4 1395.9,1521.5 1396.2,1521.6 1396.6,1521.7 1397.0,1521.7 1397.4,1521.8 1397.8,1521.9 1398.2,1522.0 1398.6,1522.1 1399.0,1522.1 1399.3,1522.2 1399.7,1522.3 1400.1,1522.3 1400.5,1522.4 1400.9,1522.5 1401.3,1522.6 1401.7,1522.6 1402.1,1522.7 1402.4,1522.8 1402.8,1522.8 1403.2,1522.8 1403.6,1522.8 1404.0,1522.9 1404.4,1522.9 1404.8,1522.9 1405.2,1523.0 1405.5,1523.0 1405.9,1523.0 1406.3,1523.0 1406.7,1523.1 1407.1,1523.1 1407.5,1523.1 1407.9,1523.1 1408.2,1523.2 1408.6,1523.2 1409.0,1523.2 1409.4,1523.2 1409.8,1523.3 1410.2,1523.3 1410.6,1523.3 1411.0,1523.3 1411.3,1523.4 1411.7,1523.4 1412.1,1523.4 1412.5,1523.4 1412.9,1523.5 1413.3,1523.5 1413.7,1523.5 1414.1,1523.5 1417.0,1523.7 1419.9,1523.9 1422.8,1524.0 1425.7,1524.2 1428.6,1524.2 1431.5,1524.3 1434.4,1524.3 1437.3,1524.3 1440.2,1524.4 1443.1,1524.4 1446.0,1524.4 1448.9,1524.5 1451.8,1524.5 1454.7,1524.5 1457.6,1524.6 1460.5,1524.6 1463.4,1524.6 1466.3,1524.6 1469.2,1524.7 1472.1,1524.7 1475.0,1524.7 1477.9,1524.7 1480.8,1524.7 1483.7,1524.8 1486.6,1524.8 1489.5,1524.8 1492.4,1524.8 1495.3,1524.8 1498.2,1524.9 1501.1,1524.9 1504.0,1524.9 1506.9,1524.9 1509.8,1524.9 1512.7,1525.0 1515.7,1525.0 1518.6,1525.0 1521.5,1525.0 1524.4,1525.0 1527.3,1525.0 1530.2,1525.1 1533.1,1525.1 1536.0,1525.1 1538.9,1525.1 1541.8,1525.1 1544.7,1525.1 1547.6,1525.1 1550.5,1525.2 1553.4,1525.2 1556.3,1525.2 1559.2,1525.2 1562.1,1525.2 1565.0,1525.2 1567.9,1525.2 1570.8,1525.3 1573.7,1525.3 1576.6,1525.3 1579.5,1525.3 1582.4,1525.3 1585.3,1525.3 1588.2,1525.3 1591.1,1525.4 1594.0,1525.4 1596.9,1525.4 1599.8,1525.4 1602.7,1525.4 1605.6,1525.4 1608.5,1525.4 1611.4,1525.4 1614.3,1525.5 1617.3,1525.5 1620.2,1525.5 1623.1,1525.5 1626.0,1525.5 1628.9,1525.5 1631.8,1525.5 1634.7,1525.5 1637.6,1525.6 1640.5,1525.6 1643.4,1525.6 1646.3,1525.6 1649.2,1525.6 1652.1,1525.6 1655.0,1525.6 1657.9,1525.6 1660.8,1525.6 1663.7,1525.7 1666.6,1525.7 1669.5,1525.7 1672.4,1525.7 1675.3,1525.7 1678.2,1525.7 1681.1,1525.7 1684.0,1525.7 1686.9,1525.8 1689.8,1525.8 1692.7,1525.8 1695.6,1525.8 1698.5,1525.8 1701.4,1525.8 1704.3,1525.8 1707.2,1525.8 1710.1,1525.8 1713.0,1525.9 1715.9,1525.9 1718.9,1525.9 1721.8,1525.9 1724.7,1525.9 1727.6,1525.9 1730.5,1525.9 1733.4,1525.9 1736.3,1525.9 1739.2,1525.9 1742.1,1526.0 1745.0,1526.0 1747.9,1526.0 1750.8,1526.0 1753.7,1526.0 1756.6,1526.0 1759.5,1526.0 1762.4,1526.0 1765.3,1526.0 1768.2,1526.1 1771.1,1526.1 1774.0,1526.1 1776.9,1526.1 1779.8,1526.1 1782.7,1526.1 1785.6,1526.1 1788.5,1526.1 1791.4,1526.1 1794.3,1526.1 1797.2,1526.2 1800.1,1526.2 1803.0,1526.2 1805.9,1526.2 1808.8,1526.2 1811.7,1526.2 1814.6,1526.2 1817.5,1526.2 1820.5,1526.2 1823.4,1526.2 1826.3,1526.2 1829.2,1526.3 1832.1,1526.3 1835.0,1526.3 1837.9,1526.3 1840.8,1526.3 1843.7,1526.3 1846.6,1526.3 1849.5,1526.3 1852.4,1526.3 1855.3,1526.3 1858.2,1526.3 1861.1,1526.3 1864.0,1526.4 1866.9,1526.4 1869.8,1526.4 1872.7,1526.4 1875.6,1526.4 1878.5,1526.4 1881.4,1526.4 1884.3,1526.4 1887.2,1526.4 1890.1,1526.4 1893.0,1526.4 1895.9,1526.4 1898.8,1526.4 1901.7,1526.4 1904.6,1526.4 1907.5,1526.4 1910.4,1526.4 1913.3,1526.5 1916.2,1526.5 1919.1,1526.5 1922.1,1526.5 1925.0,1526.5 1927.9,1526.5 1930.8,1526.5 1933.7,1526.5 1936.6,1526.5 1939.5,1526.5 1942.4,1526.4 1945.3,1526.4 1948.2,1526.4 1951.1,1526.4 1954.0,1526.4 1956.9,1526.4 1959.8,1526.4 1962.7,1526.4 1965.6,1526.4 1968.5,1526.4 1971.4,1526.3 1974.3,1526.3 1977.2,1526.3 1980.1,1526.3 1983.0,1526.2 1985.9,1526.2 1988.8,1526.1 1991.7,1526.1 1994.6,1526.0 1997.5,1526.0 2000.4,1525.9 2003.3,1525.8 2006.2,1525.7 2009.1,1525.6 2012.0,1525.4 2014.9,1525.3 2015.7,1525.2 2016.4,1525.2 2017.1,1525.1 2017.8,1525.1 2018.6,1525.0 2019.3,1524.9 2020.0,1524.9 2020.7,1524.8 2021.5,1524.7 2022.2,1524.7 2022.9,1524.6 2023.7,1524.5 2024.4,1524.4 2025.1,1524.3 2025.8,1524.2 2026.6,1524.1 2027.3,1524.0 2028.0,1523.9 2028.7,1523.8 2029.5,1523.7 2030.2,1523.5 2030.9,1523.4 2031.6,1523.2 2032.4,1523.1 2033.1,1522.9 2033.8,1522.7 2034.5,1522.5 2035.3,1522.3 2036.0,1522.1 2036.7,1521.8 2037.4,1521.6 2038.2,1521.3 2038.9,1521.0 2039.6,1520.6 2040.3,1520.3 2041.1,1519.9 2041.8,1519.4 2042.5,1519.0 2043.2,1518.4 2044.0,1517.9 2044.7,1517.2 2045.4,1516.6 2046.1,1515.8 2046.9,1514.9 2047.6,1514.0 2048.3,1512.9 2049.1,1511.7 2049.8,1510.3 2050.5,1508.7 2051.2,1506.9 2052.0,1504.7 2052.7,1502.0 2053.4,1498.7 2054.1,1494.4 2054.9,1488.9 2055.6,1481.5 2056.3,1471.7 2057.0,1458.5 2057.8,1441.2 2058.5,1418.8 2059.2,1390.6 2059.9,1356.1 2060.7,1315.4 2061.4,1269.3 2062.1,1219.6 2062.8,1169.3 2063.6,1123.3 2064.3,1087.6 2065.0,1068.7 2065.7,1070.5 2066.5,1092.8 2067.2,1130.7 2067.9,1177.9 2068.6,1228.4 2069.4,1277.7 2070.1,1323.0 2070.8,1362.6 2071.5,1396.0 2072.3,1423.2 2073.0,1444.6 2073.7,1461.1 2074.5,1473.7 2075.2,1483.0 2075.9,1490.0 2076.6,1495.3 2077.4,1499.4 2078.1,1502.6 2078.8,1505.2 2079.5,1507.3 2080.3,1509.1 2081.0,1510.7 2081.7,1512.0 2082.4,1513.2 2083.2,1514.3 2083.9,1515.2 2084.6,1516.0 2085.3,1516.8 2086.1,1517.5 2086.8,1518.1 2087.5,1518.7 2088.2,1519.2 2089.0,1519.7 2089.7,1520.1 2090.4,1520.5 2091.1,1520.9 2091.9,1521.2 2092.6,1521.5 2093.3,1521.8 2094.0,1522.1 2094.8,1522.3 2095.5,1522.5 2096.2,1522.8 2096.9,1523.0 2097.7,1523.2 2098.4,1523.3 2099.1,1523.5 2099.9,1523.7 2100.6,1523.8 2101.3,1523.9 2102.0,1524.1 2102.8,1524.2 2103.5,1524.3 2104.2,1524.4 2104.9,1524.5 2105.7,1524.6 2106.4,1524.7 2107.1,1524.8 2107.8,1524.9 2108.6,1525.0 2109.3,1525.0 2110.0,1525.1 2110.7,1525.2 2111.5,1525.3 2112.2,1525.3 2112.9,1525.4 2113.6,1525.4 2114.4,1525.5 2115.1,1525.6 2115.8,1525.6 2116.5,1525.7 2117.3,1525.7 2118.0,1525.8 2120.9,1525.9 2123.8,1526.1 2126.7,1526.2 2129.6,1526.3 2132.5,1526.4 2135.4,1526.5 2138.3,1526.6 2141.2,1526.6 2144.1,1526.7 2147.0,1526.8 2149.9,1526.8 2152.8,1526.9 2155.7,1526.9 2158.6,1526.9 2161.5,1527.0 2164.4,1527.0 2167.3,1527.1 2170.2,1527.1 2173.1,1527.1 2176.1,1527.1 2179.0,1527.2 2181.9,1527.2 2184.8,1527.2 2187.7,1527.2 2190.6,1527.3 2193.5,1527.3 2196.4,1527.3 2199.3,1527.3 2202.2,1527.4 2205.1,1527.4 2208.0,1527.4 2210.9,1527.4 2213.8,1527.4 2216.7,1527.4 2219.6,1527.5 2222.5,1527.5 2225.4,1527.5 2228.3,1527.5 2231.2,1527.5 2234.1,1527.5 2237.0,1527.6 2239.9,1527.6 2242.8,1527.6 2245.7,1527.6 2248.6,1527.6 2251.5,1527.6 2254.4,1527.6 2257.3,1527.6 2260.2,1527.7 2263.1,1527.7 2266.0,1527.7 2268.9,1527.7 2271.8,1527.7 2274.7,1527.7 2277.7,1527.7 2280.6,1527.7 2283.5,1527.8 2286.4,1527.8 2289.3,1527.8 2292.2,1527.8 2295.1,1527.8 2298.0,1527.8 2300.9,1527.8 2303.8,1527.8 2306.7,1527.9 2309.6,1527.9 2312.5,1527.9 2315.4,1527.9 2318.3,1527.9 2321.2,1527.9 2324.1,1527.9 2327.0,1527.9 2329.9,1527.9 2332.8,1527.9 2335.7,1528.0 2338.6,1528.0 2341.5,1528.0 2344.4,1528.0 2347.3,1528.0 2350.2,1528.0 2353.1,1528.0 2356.0,1528.0 2358.9,1528.0 2361.8,1528.1 2364.7,1528.1 2367.6,1528.1 2370.5,1528.1 2373.4,1528.1 2376.3,1528.1 2379.3,1528.1 2382.2,1528.1 2385.1,1528.1 2388.0,1528.1 2390.9,1528.2 2393.8,1528.2 2396.7,1528.2 2399.6,1528.2 2402.5,1528.2 2405.4,1528.2 2408.3,1528.2 2411.2,1528.2 2412.5,1528.2" fill="none" stroke="#000000" stroke-width="7.5" stroke-linejoin="round" stroke-linecap="butt"/>
<path d="M380.5,1519.5 382.5,1519.4 384.6,1519.4 386.6,1519.3 388.6,1519.3 390.7,1519.2 392.7,1519.1 394.7,1519.1 396.8,1519.0 398.8,1518.9 400.8,1518.8 402.9,1518.7 404.9,1518.6 406.9,1518.4 408.9,1518.3 411.0,1518.2 413.0,1518.0 415.0,1517.8 417.1,1517.6 419.1,1517.4 421.1,1517.1 423.2,1516.8 425.2,1516.5 427.2,1516.1 429.3,1515.6 431.3,1515.0 433.3,1514.3 435.4,1513.5 436.7,1512.8 438.1,1512.0 439.4,1511.0 440.8,1509.8 442.1,1508.5 443.5,1506.9 444.8,1505.1 446.2,1503.0 447.6,1500.6 448.9,1497.8 450.3,1494.8 451.6,1491.5 453.0,1488.0 454.3,1484.2 455.7,1480.4 457.0,1476.6 458.4,1473.0 459.7,1469.9 461.1,1467.4 462.5,1465.8 463.8,1465.3 465.2,1465.8 466.5,1467.2 467.9,1469.5 469.2,1472.3 470.6,1475.5 471.9,1478.8 473.3,1482.0 474.6,1485.1 476.0,1487.9 477.4,1490.5 478.7,1492.7 480.1,1494.6 481.4,1496.1 482.8,1497.3 484.1,1498.2 485.5,1498.8 486.8,1499.0 488.2,1499.1 489.6,1498.8 490.9,1498.4 492.3,1497.7 493.6,1496.8 495.0,1495.6 496.3,1494.3 497.7,1492.6 499.0,1490.8 500.4,1488.6 501.7,1486.1 503.1,1483.1 504.5,1479.8 505.8,1475.8 507.2,1471.2 508.5,1465.8 509.9,1459.2 511.2,1451.3 512.6,1441.6 513.9,1429.5 515.3,1414.5 516.6,1395.6 518.0,1371.9 519.4,1342.5 520.7,1306.3 522.1,1262.6 523.4,1210.8 524.8,1151.5 526.1,1086.7 527.5,1020.9 528.8,962.2 530.2,921.2 531.5,907.8 532.9,923.4 534.3,963.3 535.6,1020.2 537.0,1086.3 538.3,1154.5 539.7,1219.9 541.0,1279.1 542.4,1330.2 543.7,1372.5 545.1,1406.3 546.4,1432.4 547.8,1452.1 549.2,1466.6 550.5,1477.2 551.9,1484.9 553.2,1490.6 554.6,1494.9 555.9,1498.2 557.3,1500.9 558.6,1503.0 560.0,1504.9 561.3,1506.4 562.7,1507.8 564.1,1509.0 565.4,1510.1 566.8,1511.1 568.1,1511.9 569.5,1512.7 570.8,1513.4 572.2,1514.1 573.5,1514.6 574.9,1515.2 576.2,1515.7 577.6,1516.1 579.0,1516.5 580.3,1516.9 581.7,1517.3 583.0,1517.6 584.4,1517.9 585.7,1518.2 587.1,1518.4 588.4,1518.7 589.8,1518.9 591.2,1519.1 592.5,1519.3 593.9,1519.5 595.2,1519.7 596.6,1519.8 597.9,1520.0 599.3,1520.1 600.6,1520.3 602.0,1520.4 603.3,1520.5 604.7,1520.6 606.1,1520.8 607.4,1520.9 608.8,1521.0 610.1,1521.0 611.5,1521.1 612.8,1521.2 614.2,1521.3 615.5,1521.4 616.9,1521.5 618.2,1521.5 619.6,1521.6 621.0,1521.7 622.3,1521.7 623.7,1521.8 625.0,1521.8 626.4,1521.9 627.7,1521.9 629.1,1522.0 632.0,1522.1 634.9,1522.2 637.8,1522.3 640.7,1522.4 643.6,1522.4 646.5,1522.5 649.4,1522.6 652.3,1522.6 655.2,1522.7 658.1,1522.7 661.0,1522.8 663.9,1522.8 666.8,1522.8 667.6,1522.8 668.4,1522.9 669.1,1522.9 669.9,1522.9 670.7,1522.9 671.5,1522.9 672.2,1522.9 673.0,1522.9 673.8,1522.9 674.6,1522.9 675.3,1522.9 676.1,1522.9 676.9,1522.9 677.7,1522.9 678.4,1522.9 679.2,1522.9 680.0,1523.0 680.8,1523.0 681.5,1523.0 682.3,1523.0 683.1,1523.0 683.8,1523.0 684.6,1523.0 685.4,1523.0 686.2,1523.0 686.9,1523.0 687.7,1523.0 688.5,1523.0 689.3,1523.0 690.0,1523.0 690.8,1523.0 691.6,1523.0 692.4,1523.0 693.1,1523.0 693.9,1523.0 694.7,1523.0 695.5,1522.9 696.2,1522.9 697.0,1522.9 697.8,1522.9 698.6,1522.9 699.3,1522.9 700.1,1522.9 700.9,1522.8 701.7,1522.8 702.4,1522.8 703.2,1522.7 704.0,1522.7 704.7,1522.6 705.5,1522.6 706.3,1522.5 707.1,1522.4 707.8,1522.3 708.6,1522.1 709.4,1521.8 710.2,1521.5 710.9,1521.0 711.7,1520.2 712.5,1519.2 713.3,1517.9 714.0,1516.2 714.8,1514.1 715.6,1511.6 716.4,1508.8 717.1,1505.8 717.9,1502.8 718.7,1500.1 719.5,1498.0 720.2,1496.7 721.0,1496.6 721.8,1497.6 722.6,1499.5 723.3,1502.2 724.1,1505.1 724.9,1508.1 725.6,1511.0 726.4,1513.6 727.2,1515.8 728.0,1517.6 728.7,1519.0 729.5,1520.1 730.3,1520.9 731.1,1521.5 731.8,1521.9 732.6,1522.2 733.4,1522.4 734.2,1522.5 734.9,1522.6 735.7,1522.7 736.5,1522.8 737.3,1522.9 738.0,1522.9 738.8,1523.0 739.6,1523.0 740.4,1523.0 741.1,1523.1 741.9,1523.1 742.7,1523.1 743.5,1523.2 744.2,1523.2 745.0,1523.2 745.8,1523.2 746.6,1523.2 747.3,1523.3 748.1,1523.3 748.9,1523.3 749.6,1523.3 750.4,1523.3 751.2,1523.3 752.0,1523.3 752.7,1523.3 753.5,1523.4 754.3,1523.4 755.1,1523.4 755.8,1523.4 756.6,1523.4 757.4,1523.4 758.2,1523.4 758.9,1523.4 759.7,1523.4 760.5,1523.4 761.3,1523.4 762.0,1523.4 762.8,1523.4 763.6,1523.4 764.4,1523.4 765.1,1523.4 765.9,1523.4 766.7,1523.4 767.5,1523.4 768.2,1523.4 769.0,1523.4 769.8,1523.4 770.5,1523.3 771.3,1523.3 772.1,1523.3 772.9,1523.3 773.6,1523.3 774.4,1523.3 775.2,1523.3 776.0,1523.3 776.7,1523.3 779.6,1523.3 782.5,1523.3 785.4,1523.2 788.4,1523.2 791.3,1523.2 794.2,1523.2 797.1,1523.1 800.0,1523.1 802.9,1523.1 805.8,1523.0 808.7,1523.0 811.6,1523.0 814.5,1523.0 817.4,1522.9 820.3,1522.9 823.2,1522.9 826.1,1522.8 829.0,1522.8 831.9,1522.8 834.8,1522.7 837.7,1522.7 840.6,1522.7 843.5,1522.7 846.4,1522.6 849.3,1522.6 852.2,1522.6 855.1,1522.5 858.0,1522.5 860.9,1522.5 863.8,1522.4 866.7,1522.4 869.6,1522.4 872.5,1522.3 875.4,1522.3 878.3,1522.3 881.2,1522.2 884.1,1522.2 887.0,1522.2 890.0,1522.1 892.9,1522.1 895.8,1522.1 898.7,1522.0 901.6,1522.0 904.5,1522.0 907.4,1521.9 910.3,1521.9 913.2,1521.8 916.1,1521.8 919.0,1521.8 921.9,1521.7 924.8,1521.7 927.7,1521.7 930.6,1521.6 933.5,1521.6 936.4,1521.5 939.3,1521.5 942.2,1521.4 945.1,1521.3 948.0,1521.3 950.9,1521.2 953.8,1521.1 956.7,1521.1 959.6,1521.0 962.5,1520.9 965.4,1520.8 968.3,1520.8 971.2,1520.7 974.1,1520.6 977.0,1520.6 979.9,1520.5 982.8,1520.4 985.7,1520.4 988.6,1520.3 991.6,1520.2 994.5,1520.2 997.4,1520.1 1000.3,1520.0 1003.2,1519.9 1006.1,1519.9 1009.0,1519.8 1011.9,1519.7 1014.8,1519.6 1017.7,1519.6 1020.6,1519.5 1023.5,1519.4 1024.5,1519.4 1025.6,1519.4 1026.7,1519.3 1027.7,1519.3 1028.8,1519.3 1029.9,1519.3 1030.9,1519.2 1032.0,1519.2 1033.1,1519.2 1034.1,1519.1 1035.2,1519.1 1036.3,1519.1 1037.3,1519.1 1038.4,1519.0 1039.4,1519.0 1040.5,1519.0 1041.6,1518.9 1042.6,1518.9 1043.7,1518.9 1044.8,1518.8 1045.8,1518.8 1046.9,1518.8 1048.0,1518.7 1049.0,1518.7 1050.1,1518.7 1051.2,1518.6 1052.2,1518.6 1053.3,1518.6 1054.3,1518.5 1055.4,1518.5 1056.5,1518.5 1057.5,1518.4 1058.6,1518.4 1059.7,1518.4 1060.7,1518.3 1061.8,1518.3 1062.9,1518.3 1063.9,1518.2 1065.0,1518.2 1066.1,1518.1 1067.1,1518.1 1068.2,1518.0 1069.3,1518.0 1070.3,1517.9 1071.4,1517.9 1072.4,1517.8 1073.5,1517.8 1074.6,1517.7 1075.6,1517.6 1076.7,1517.6 1077.8,1517.5 1078.8,1517.4 1079.9,1517.3 1081.0,1517.1 1082.0,1516.9 1083.1,1516.6 1084.2,1516.2 1085.2,1515.7 1086.3,1515.0 1087.3,1514.1 1088.4,1512.9 1089.5,1511.5 1090.5,1509.9 1091.6,1508.0 1092.7,1506.0 1093.7,1504.0 1094.8,1502.2 1095.9,1500.8 1096.9,1500.0 1098.0,1500.0 1099.1,1500.6 1100.1,1501.9 1101.2,1503.6 1102.2,1505.5 1103.3,1507.4 1104.4,1509.2 1105.4,1510.8 1106.5,1512.2 1107.6,1513.4 1108.6,1514.2 1109.7,1514.9 1110.8,1515.4 1111.8,1515.7 1112.9,1515.9 1114.0,1516.1 1115.0,1516.2 1116.1,1516.3 1117.1,1516.3 1118.2,1516.4 1119.3,1516.4 1120.3,1516.4 1121.4,1516.4 1122.5,1516.4 1123.5,1516.4 1124.6,1516.4 1125.7,1516.4 1126.7,1516.3 1127.8,1516.3 1128.9,1516.3 1129.9,1516.3 1131.0,1516.3 1132.0,1516.2 1133.1,1516.2 1134.2,1516.2 1135.2,1516.2 1136.3,1516.1 1137.4,1516.1 1138.4,1516.1 1139.5,1516.0 1140.6,1516.0 1141.6,1515.9 1142.7,1515.9 1143.8,1515.9 1144.8,1515.8 1145.9,1515.8 1147.0,1515.7 1148.0,1515.7 1149.1,1515.6 1150.1,1515.5 1151.2,1515.5 1152.3,1515.4 1153.3,1515.3 1154.4,1515.2 1155.5,1515.1 1156.5,1515.0 1157.6,1514.9 1158.7,1514.8 1159.7,1514.7 1160.8,1514.6 1161.9,1514.4 1162.9,1514.3 1164.0,1514.1 1165.0,1513.9 1166.1,1513.7 1167.2,1513.5 1168.2,1513.2 1169.3,1512.9 1170.4,1512.7 1171.4,1512.3 1172.5,1512.0 1173.6,1511.6 1174.6,1511.2 1176.1,1510.6 1177.5,1510.0 1179.0,1509.3 1180.4,1508.5 1181.9,1507.7 1183.3,1506.9 1184.8,1506.0 1186.2,1505.1 1187.7,1504.2 1189.1,1503.3 1190.6,1502.4 1192.0,1501.6 1193.5,1500.9 1194.9,1500.2 1196.4,1499.7 1197.8,1499.3 1199.3,1499.1 1200.8,1499.0 1202.2,1499.0 1203.7,1499.2 1205.1,1499.4 1206.6,1499.6 1208.0,1499.8 1209.5,1500.0 1210.9,1500.0 1212.4,1500.0 1213.8,1499.8 1215.3,1499.5 1216.7,1499.1 1218.2,1498.8 1219.6,1498.5 1221.1,1498.4 1222.5,1498.6 1224.0,1499.0 1225.4,1499.6 1226.9,1500.4 1228.3,1501.2 1229.8,1502.0 1231.2,1502.7 1232.7,1503.3 1234.1,1503.6 1235.6,1503.8 1237.0,1503.8 1238.5,1503.6 1239.9,1503.2 1241.4,1502.7 1242.8,1502.0 1244.3,1501.2 1245.7,1500.3 1247.2,1499.2 1248.6,1497.9 1250.1,1496.4 1251.6,1494.8 1253.0,1492.9 1254.5,1490.6 1255.9,1487.9 1257.4,1484.7 1258.8,1480.7 1260.3,1475.6 1261.7,1469.2 1263.2,1461.0 1264.6,1450.4 1266.1,1436.7 1267.5,1419.4 1269.0,1397.6 1270.4,1370.9 1271.9,1338.8 1273.3,1301.2 1274.8,1258.7 1276.2,1212.3 1277.7,1164.0 1279.1,1116.8 1280.6,1075.4 1282.0,1044.9 1283.5,1030.6 1284.9,1035.0 1286.4,1057.4 1287.8,1093.7 1289.3,1138.5 1290.7,1186.7 1292.2,1234.5 1293.6,1279.3 1295.1,1319.6 1296.5,1354.6 1298.0,1384.2 1299.4,1408.6 1300.9,1428.3 1302.4,1443.8 1303.8,1456.0 1305.3,1465.5 1306.7,1472.9 1308.2,1478.6 1309.6,1483.2 1310.6,1485.7 1311.5,1487.9 1312.5,1489.8 1313.5,1491.6 1314.4,1493.1 1315.4,1494.5 1316.4,1495.8 1317.3,1496.9 1318.3,1498.0 1319.3,1499.0 1320.3,1499.9 1321.2,1500.7 1322.2,1501.5 1323.2,1502.2 1324.1,1502.9 1325.1,1503.5 1326.1,1504.1 1327.0,1504.7 1328.0,1505.2 1329.0,1505.7 1329.9,1506.1 1330.9,1506.6 1331.9,1507.0 1332.8,1507.4 1333.8,1507.7 1334.8,1508.1 1335.7,1508.4 1336.7,1508.7 1337.7,1509.0 1338.6,1509.3 1339.6,1509.6 1340.6,1509.8 1341.5,1510.0 1342.5,1510.3 1343.5,1510.5 1344.4,1510.7 1345.4,1510.9 1346.4,1511.1 1347.3,1511.2 1348.3,1511.4 1349.3,1511.6 1350.2,1511.7 1351.2,1511.9 1352.2,1512.0 1353.2,1512.1 1354.1,1512.2 1355.1,1512.3 1356.1,1512.5 1357.0,1512.6 1358.0,1512.6 1359.0,1512.7 1359.9,1512.8 1360.9,1512.9 1361.9,1512.9 1362.8,1512.9 1363.8,1512.9 1364.8,1512.9 1365.7,1512.8 1366.7,1512.6 1367.7,1512.3 1368.6,1511.8 1369.6,1511.2 1370.6,1510.4 1371.5,1509.3 1372.5,1508.0 1373.5,1506.6 1374.4,1505.0 1375.4,1503.4 1376.4,1501.9 1377.3,1500.7 1378.3,1499.9 1379.3,1499.8 1380.2,1500.3 1381.2,1501.4 1382.2,1502.9 1383.1,1504.6 1384.1,1506.4 1385.1,1508.1 1386.0,1509.6 1387.0,1511.0 1388.0,1512.1 1389.0,1513.0 1389.9,1513.7 1390.9,1514.2 1391.9,1514.6 1392.8,1514.9 1393.8,1515.1 1394.8,1515.3 1395.7,1515.4 1396.7,1515.5 1397.7,1515.6 1398.6,1515.7 1399.6,1515.8 1400.6,1515.9 1401.5,1515.9 1402.5,1516.0 1403.5,1516.1 1404.4,1516.1 1405.4,1516.2 1406.4,1516.3 1407.3,1516.3 1408.3,1516.4 1409.3,1516.4 1410.2,1516.5 1411.2,1516.5 1412.2,1516.6 1413.1,1516.6 1414.1,1516.7 1415.1,1516.7 1416.0,1516.7 1417.0,1516.8 1418.0,1516.8 1418.9,1516.9 1419.9,1516.9 1420.9,1516.9 1421.9,1517.0 1422.8,1517.0 1423.8,1517.1 1424.8,1517.1 1425.7,1517.1 1426.7,1517.2 1427.7,1517.2 1428.6,1517.2 1429.6,1517.2 1430.6,1517.2 1431.5,1517.3 1432.5,1517.3 1433.5,1517.3 1434.4,1517.3 1435.4,1517.3 1436.4,1517.4 1437.3,1517.4 1438.3,1517.4 1439.3,1517.4 1440.2,1517.4 1441.2,1517.4 1442.2,1517.5 1443.1,1517.5 1444.1,1517.5 1445.1,1517.5 1446.0,1517.5 1447.0,1517.5 1448.0,1517.6 1448.9,1517.6 1451.8,1517.6 1454.8,1517.6 1457.7,1517.7 1460.6,1517.7 1463.5,1517.8 1466.4,1517.8 1469.3,1517.8 1472.2,1517.9 1475.1,1517.9 1478.0,1517.9 1480.9,1517.9 1483.8,1518.0 1486.7,1518.0 1489.6,1518.0 1492.5,1518.1 1495.4,1518.1 1498.3,1518.1 1501.2,1518.1 1504.1,1518.1 1507.0,1518.2 1509.9,1518.2 1512.8,1518.2 1515.7,1518.2 1518.6,1518.3 1521.5,1518.3 1524.4,1518.3 1527.3,1518.3 1530.2,1518.3 1533.1,1518.3 1536.0,1518.4 1538.9,1518.4 1541.8,1518.4 1544.7,1518.5 1547.6,1518.5 1550.5,1518.6 1553.4,1518.6 1556.4,1518.7 1559.3,1518.7 1562.2,1518.8 1565.1,1518.8 1568.0,1518.9 1570.9,1518.9 1573.8,1519.0 1576.7,1519.0 1579.6,1519.1 1582.5,1519.1 1585.4,1519.2 1588.3,1519.2 1591.2,1519.3 1594.1,1519.3 1597.0,1519.4 1599.9,1519.4 1602.8,1519.5 1605.7,1519.5 1608.6,1519.6 1611.5,1519.6 1614.4,1519.7 1617.3,1519.7 1620.2,1519.8 1623.1,1519.8 1626.0,1519.8 1628.9,1519.9 1631.8,1519.9 1634.7,1520.0 1637.6,1520.0 1640.5,1520.1 1643.4,1520.1 1646.3,1520.2 1649.2,1520.2 1652.1,1520.3 1655.0,1520.3 1658.0,1520.4 1660.9,1520.4 1663.8,1520.5 1666.7,1520.5 1669.6,1520.5 1672.5,1520.6 1675.4,1520.6 1678.3,1520.7 1681.2,1520.7 1684.1,1520.8 1687.0,1520.8 1689.9,1520.9 1692.8,1520.9 1695.7,1521.0 1698.6,1521.0 1701.5,1521.0 1704.4,1521.1 1707.3,1521.1 1710.2,1521.2 1713.1,1521.2 1716.0,1521.3 1718.9,1521.3 1721.8,1521.4 1724.7,1521.4 1727.6,1521.5 1730.5,1521.5 1733.4,1521.6 1736.3,1521.6 1739.2,1521.7 1742.1,1521.7 1745.0,1521.8 1747.9,1521.8 1750.8,1521.9 1753.7,1521.9 1756.6,1522.0 1759.6,1522.0 1762.5,1522.1 1765.4,1522.1 1768.3,1522.2 1771.2,1522.2 1774.1,1522.2 1777.0,1522.3 1779.9,1522.3 1782.8,1522.4 1785.7,1522.4 1788.6,1522.5 1791.5,1522.5 1794.4,1522.6 1797.3,1522.6 1800.2,1522.7 1803.1,1522.7 1806.0,1522.8 1808.9,1522.8 1811.8,1522.9 1814.7,1522.9 1817.6,1522.9 1820.5,1523.0 1823.4,1523.0 1826.3,1523.1 1829.2,1523.1 1832.1,1523.2 1835.0,1523.2 1837.9,1523.2 1840.8,1523.3 1843.7,1523.3 1846.6,1523.3 1849.5,1523.4 1852.4,1523.4 1855.3,1523.4 1858.2,1523.5 1861.2,1523.5 1864.1,1523.5 1867.0,1523.6 1869.9,1523.6 1872.8,1523.6 1875.7,1523.6 1878.6,1523.7 1881.5,1523.7 1884.4,1523.7 1887.3,1523.7 1890.2,1523.8 1893.1,1523.8 1896.0,1523.8 1898.9,1523.8 1901.8,1523.9 1904.7,1523.9 1906.8,1523.9 1909.0,1523.9 1911.1,1523.9 1913.2,1523.9 1915.3,1523.9 1917.5,1523.9 1919.6,1523.9 1921.7,1523.9 1923.9,1523.9 1926.0,1523.9 1928.1,1523.9 1930.2,1523.9 1932.4,1523.9 1934.5,1523.9 1936.6,1523.9 1938.8,1523.9 1940.9,1523.9 1943.0,1523.9 1945.1,1523.9 1947.3,1523.9 1949.4,1523.8 1951.5,1523.8 1953.7,1523.7 1955.8,1523.6 1957.9,1523.6 1960.0,1523.5 1962.2,1523.4 1964.3,1523.3 1966.4,1523.3 1968.6,1523.2 1970.7,1523.1 1972.8,1523.0 1974.9,1522.8 1977.1,1522.7 1979.2,1522.6 1981.3,1522.4 1983.5,1522.3 1985.6,1522.1 1987.7,1521.9 1989.8,1521.7 1992.0,1521.5 1994.1,1521.3 1996.2,1521.0 1998.4,1520.7 2000.5,1520.4 2002.6,1520.0 2004.7,1519.6 2006.9,1519.1 2009.0,1518.6 2011.1,1518.0 2013.3,1517.4 2015.4,1516.6 2017.5,1515.6 2019.6,1514.5 2021.8,1513.1 2023.9,1511.3 2026.0,1508.9 2028.2,1505.8 2030.3,1501.6 2032.4,1496.0 2034.5,1488.6 2036.7,1479.1 2038.8,1467.1 2040.9,1452.5 2043.1,1435.3 2045.2,1415.9 2047.3,1394.9 2049.4,1373.9 2051.6,1354.7 2053.7,1340.0 2055.8,1332.4 2058.0,1335.3 2060.1,1352.7 2062.2,1379.3 2064.4,1408.3 2066.5,1435.5 2068.6,1458.4 2070.7,1476.4 2072.9,1489.7 2075.0,1499.0 2077.1,1505.3 2079.3,1509.5 2081.4,1512.4 2083.5,1514.4 2085.6,1515.9 2087.8,1517.1 2089.9,1518.0 2092.0,1518.8 2094.2,1519.4 2096.3,1520.0 2098.4,1520.4 2100.5,1520.9 2102.7,1521.2 2104.8,1521.5 2106.9,1521.8 2109.1,1522.0 2111.2,1522.3 2113.3,1522.4 2115.4,1522.6 2117.6,1522.8 2119.7,1522.9 2121.8,1523.0 2124.0,1523.2 2126.1,1523.3 2128.2,1523.4 2130.3,1523.4 2132.5,1523.5 2134.6,1523.6 2136.7,1523.7 2138.9,1523.7 2141.0,1523.8 2143.1,1523.8 2145.2,1523.9 2147.4,1523.9 2149.5,1524.0 2151.6,1524.0 2153.8,1524.0 2155.9,1524.1 2158.0,1524.1 2160.1,1524.1 2162.3,1524.2 2164.4,1524.2 2166.5,1524.2 2168.7,1524.2 2170.8,1524.3 2172.9,1524.3 2175.0,1524.3 2177.2,1524.3 2179.3,1524.3 2181.4,1524.3 2183.6,1524.4 2185.7,1524.4 2187.8,1524.4 2189.9,1524.4 2192.1,1524.4 2194.2,1524.4 2196.3,1524.5 2198.5,1524.5 2200.6,1524.5 2202.7,1524.5 2204.8,1524.5 2207.0,1524.5 2209.1,1524.5 2211.2,1524.5 2214.1,1524.5 2217.0,1524.6 2219.9,1524.6 2222.8,1524.6 2225.7,1524.6 2228.7,1524.6 2231.6,1524.6 2234.5,1524.6 2237.4,1524.6 2240.3,1524.6 2243.2,1524.6 2246.1,1524.7 2249.0,1524.7 2251.9,1524.7 2254.8,1524.7 2257.7,1524.7 2260.6,1524.7 2263.5,1524.7 2266.4,1524.7 2269.3,1524.7 2272.2,1524.7 2275.1,1524.7 2278.0,1524.7 2280.9,1524.7 2283.8,1524.7 2286.7,1524.7 2289.6,1524.7 2292.5,1524.7 2295.4,1524.7 2298.3,1524.7 2301.2,1524.7 2304.1,1524.8 2307.0,1524.8 2309.9,1524.8 2312.8,1524.8 2315.7,1524.8 2318.6,1524.8 2321.5,1524.8 2324.4,1524.8 2327.3,1524.8 2330.3,1524.8 2333.2,1524.8 2336.1,1524.8 2339.0,1524.8 2341.9,1524.8 2344.8,1524.8 2347.7,1524.8 2350.6,1524.8 2353.5,1524.8 2356.4,1524.8 2359.3,1524.8 2362.2,1524.8 2365.1,1524.8 2368.0,1524.8 2370.9,1524.8 2373.8,1524.8 2376.7,1524.8 2379.6,1524.8 2382.5,1524.8 2385.4,1524.8 2388.3,1524.8 2391.2,1524.8 2394.1,1524.8 2397.0,1524.8 2399.9,1524.8 2402.8,1524.8 2405.7,1524.8 2408.6,1524.8 2411.5,1524.8 2412.5,1524.8" fill="none" stroke="#ff0000" stroke-width="7.5" stroke-linejoin="round" stroke-linecap="butt"/>
<path d="M380.5,1525.1 383.4,1525.1 386.3,1525.1 389.2,1525.0 392.1,1525.0 395.0,1525.0 397.9,1524.9 400.8,1524.9 401.8,1524.9 402.8,1524.9 403.7,1524.8 404.7,1524.8 405.7,1524.8 406.6,1524.8 407.6,1524.8 408.6,1524.8 409.5,1524.7 410.5,1524.7 411.5,1524.7 412.4,1524.7 413.4,1524.7 414.4,1524.6 415.3,1524.6 416.3,1524.6 417.3,1524.6 418.2,1524.5 419.2,1524.5 420.2,1524.5 421.1,1524.5 422.1,1524.4 423.1,1524.4 424.0,1524.4 425.0,1524.3 426.0,1524.3 426.9,1524.3 427.9,1524.2 428.9,1524.2 429.8,1524.1 430.8,1524.1 431.8,1524.1 432.8,1524.0 433.7,1524.0 434.7,1523.9 435.7,1523.9 436.6,1523.8 437.6,1523.8 438.6,1523.7 439.5,1523.6 440.5,1523.6 441.5,1523.5 442.4,1523.4 443.4,1523.4 444.4,1523.3 445.3,1523.2 446.3,1523.1 447.3,1523.0 448.2,1522.9 449.2,1522.8 450.2,1522.7 451.1,1522.5 452.1,1522.4 453.1,1522.2 454.0,1522.0 455.0,1521.7 456.0,1521.4 456.9,1521.0 457.9,1520.4 458.9,1519.7 459.8,1518.8 460.8,1517.6 461.8,1516.2 462.7,1514.5 463.7,1512.6 464.7,1510.5 465.7,1508.4 466.6,1506.3 467.6,1504.6 468.6,1503.5 469.5,1503.1 470.5,1503.5 471.5,1504.6 472.4,1506.1 473.4,1507.9 474.4,1509.7 475.3,1511.4 476.3,1512.9 477.3,1514.2 478.2,1515.1 479.2,1515.9 480.2,1516.3 481.1,1516.6 482.1,1516.7 483.1,1516.7 484.0,1516.6 485.0,1516.4 486.0,1516.1 486.9,1515.8 487.9,1515.5 488.9,1515.1 489.8,1514.7 490.8,1514.2 491.8,1513.7 492.7,1513.1 493.7,1512.5 494.7,1511.8 495.6,1511.1 496.6,1510.3 497.6,1509.5 498.5,1508.6 499.5,1507.6 500.5,1506.5 501.5,1505.3 502.4,1504.0 503.4,1502.6 504.4,1501.0 505.3,1499.3 506.3,1497.3 507.3,1495.2 508.2,1492.8 509.2,1490.0 510.2,1486.9 511.1,1483.3 512.1,1479.0 513.1,1473.8 514.0,1467.4 515.0,1459.3 516.0,1449.1 516.9,1435.8 517.9,1418.6 518.9,1396.4 519.8,1367.9 520.8,1331.9 521.8,1287.1 522.7,1232.7 523.7,1168.1 524.7,1093.4 525.6,1009.6 526.6,918.8 527.6,824.2 528.5,731.0 529.5,645.7 530.5,576.7 531.4,532.2 532.4,519.0 533.4,546.3 534.4,613.4 535.3,708.0 536.3,816.5 537.3,927.4 538.2,1032.9 539.2,1127.8 540.3,1222.2 541.5,1297.2 542.6,1354.1 543.7,1395.7 544.9,1425.2 546.0,1446.0 547.1,1460.5 548.3,1470.9 549.4,1478.6 550.6,1484.5 551.7,1489.3 552.8,1493.1 554.0,1496.4 555.1,1499.2 556.2,1501.7 557.4,1503.8 558.5,1505.7 559.7,1507.3 560.8,1508.8 561.9,1510.1 563.1,1511.3 564.2,1512.4 565.3,1513.3 566.5,1514.2 567.6,1515.0 568.8,1515.7 569.9,1516.4 571.0,1517.0 572.2,1517.5 573.3,1518.1 574.4,1518.5 575.6,1519.0 576.7,1519.4 577.8,1519.7 579.0,1520.1 580.1,1520.4 581.3,1520.7 582.4,1521.0 583.5,1521.3 584.7,1521.5 585.8,1521.8 586.9,1522.0 588.1,1522.2 589.2,1522.4 590.4,1522.6 591.5,1522.8 592.6,1522.9 593.8,1523.1 594.9,1523.2 596.0,1523.4 597.2,1523.5 598.3,1523.6 599.4,1523.8 600.6,1523.9 601.7,1524.0 602.9,1524.1 604.0,1524.2 605.1,1524.3 606.3,1524.4 607.4,1524.5 608.5,1524.5 609.7,1524.6 610.8,1524.7 612.0,1524.8 613.1,1524.9 614.2,1524.9 617.1,1525.1 620.0,1525.3 622.9,1525.4 625.8,1525.6 628.7,1525.7 631.6,1525.8 634.5,1525.9 637.5,1526.0 640.4,1526.1 643.3,1526.2 646.2,1526.3 649.1,1526.4 652.0,1526.5 654.9,1526.5 657.8,1526.6 658.6,1526.6 659.5,1526.7 660.4,1526.7 661.3,1526.7 662.1,1526.7 663.0,1526.7 663.9,1526.8 664.7,1526.8 665.6,1526.8 666.5,1526.8 667.4,1526.8 668.2,1526.8 669.1,1526.9 670.0,1526.9 670.8,1526.9 671.7,1526.9 672.6,1526.9 673.4,1526.9 674.3,1527.0 675.2,1527.0 676.1,1527.0 676.9,1527.0 677.8,1527.0 678.7,1527.0 679.5,1527.1 680.4,1527.1 681.3,1527.1 682.2,1527.1 683.0,1527.1 683.9,1527.1 684.8,1527.1 685.6,1527.1 686.5,1527.2 687.4,1527.2 688.3,1527.2 689.1,1527.2 690.0,1527.2 690.9,1527.2 691.7,1527.2 692.6,1527.2 693.5,1527.2 694.3,1527.2 695.2,1527.3 696.1,1527.3 697.0,1527.3 697.8,1527.3 698.7,1527.3 699.6,1527.3 700.4,1527.3 701.3,1527.3 702.2,1527.2 703.1,1527.2 703.9,1527.2 704.8,1527.2 705.7,1527.1 706.5,1527.0 707.4,1526.9 708.3,1526.7 709.2,1526.4 710.0,1526.0 710.9,1525.5 711.8,1525.0 712.6,1524.2 713.5,1523.5 714.4,1522.6 715.2,1521.8 716.1,1521.0 717.0,1520.4 717.9,1520.0 718.7,1520.0 719.6,1520.3 720.5,1520.9 721.3,1521.7 722.2,1522.5 723.1,1523.4 724.0,1524.2 724.8,1525.0 725.7,1525.6 726.6,1526.2 727.4,1526.6 728.3,1526.9 729.2,1527.1 730.1,1527.3 730.9,1527.4 731.8,1527.5 732.7,1527.6 733.5,1527.6 734.4,1527.7 735.3,1527.7 736.1,1527.8 737.0,1527.8 737.9,1527.8 738.8,1527.8 739.6,1527.9 740.5,1527.9 741.4,1527.9 742.2,1527.9 743.1,1527.9 744.0,1527.9 744.9,1528.0 745.7,1528.0 746.6,1528.0 747.5,1528.0 748.3,1528.0 749.2,1528.0 750.1,1528.0 751.0,1528.1 751.8,1528.1 752.7,1528.1 753.6,1528.1 754.4,1528.1 755.3,1528.1 756.2,1528.1 757.0,1528.1 757.9,1528.2 758.8,1528.2 759.7,1528.2 760.5,1528.2 761.4,1528.2 762.3,1528.1 763.1,1528.1 764.0,1528.1 764.9,1528.1 765.8,1528.1 766.6,1528.1 767.5,1528.1 768.4,1528.1 769.2,1528.1 770.1,1528.1 771.0,1528.1 771.9,1528.1 772.7,1528.1 773.6,1528.1 774.5,1528.1 775.3,1528.1 776.2,1528.1 777.1,1528.1 777.9,1528.1 778.8,1528.1 779.7,1528.1 780.6,1528.1 781.4,1528.1 784.3,1528.1 787.2,1528.0 790.1,1528.0 793.0,1528.0 795.9,1528.0 798.9,1528.0 801.8,1528.0 804.7,1527.9 807.6,1527.9 810.5,1527.9 813.4,1527.9 816.3,1527.9 819.2,1527.9 822.1,1527.8 825.0,1527.8 827.9,1527.8 830.8,1527.8 833.7,1527.8 836.6,1527.7 839.5,1527.7 842.4,1527.7 845.3,1527.7 848.2,1527.7 851.1,1527.6 854.0,1527.6 856.9,1527.6 859.8,1527.6 862.7,1527.6 865.6,1527.6 868.5,1527.5 871.4,1527.5 874.3,1527.5 877.2,1527.5 880.1,1527.4 883.0,1527.4 885.9,1527.4 888.8,1527.4 891.7,1527.4 894.6,1527.3 897.5,1527.3 900.5,1527.3 903.4,1527.3 906.3,1527.3 909.2,1527.2 912.1,1527.2 915.0,1527.2 917.9,1527.2 920.8,1527.1 923.7,1527.1 926.6,1527.1 929.5,1527.1 932.4,1527.0 935.3,1527.0 938.2,1527.0 941.1,1527.0 944.0,1526.9 946.9,1526.9 949.8,1526.9 952.7,1526.9 955.6,1526.8 958.5,1526.8 961.4,1526.8 964.3,1526.8 967.2,1526.7 970.1,1526.7 973.0,1526.7 975.9,1526.7 978.8,1526.6 981.7,1526.6 984.6,1526.6 987.5,1526.5 990.4,1526.5 993.3,1526.5 996.2,1526.5 999.1,1526.4 1002.1,1526.4 1005.0,1526.4 1007.9,1526.3 1010.8,1526.3 1013.7,1526.3 1016.6,1526.2 1019.5,1526.2 1022.4,1526.2 1025.3,1526.1 1028.2,1526.1 1029.1,1526.1 1030.1,1526.1 1031.1,1526.1 1032.0,1526.1 1033.0,1526.0 1034.0,1526.0 1034.9,1526.0 1035.9,1526.0 1036.9,1526.0 1037.9,1526.0 1038.8,1526.0 1039.8,1526.0 1040.8,1525.9 1041.7,1525.9 1042.7,1525.9 1043.7,1525.9 1044.6,1525.9 1045.6,1525.9 1046.6,1525.9 1047.5,1525.8 1048.5,1525.8 1049.5,1525.8 1050.4,1525.8 1051.4,1525.8 1052.4,1525.8 1053.3,1525.8 1054.3,1525.7 1055.3,1525.7 1056.2,1525.7 1057.2,1525.7 1058.2,1525.7 1059.1,1525.6 1060.1,1525.6 1061.1,1525.6 1062.0,1525.6 1063.0,1525.5 1064.0,1525.5 1064.9,1525.4 1065.9,1525.4 1066.9,1525.4 1067.8,1525.3 1068.8,1525.3 1069.8,1525.2 1070.8,1525.2 1071.7,1525.2 1072.7,1525.1 1073.7,1525.1 1074.6,1525.0 1075.6,1524.9 1076.6,1524.9 1077.5,1524.8 1078.5,1524.7 1079.5,1524.6 1080.4,1524.5 1081.4,1524.4 1082.4,1524.2 1083.3,1524.0 1084.3,1523.7 1085.3,1523.3 1086.2,1522.7 1087.2,1521.9 1088.2,1520.8 1089.1,1519.5 1090.1,1517.8 1091.1,1515.9 1092.0,1513.7 1093.0,1511.3 1094.0,1509.0 1094.9,1506.8 1095.9,1505.1 1096.9,1504.1 1097.8,1503.9 1098.8,1504.6 1099.8,1506.1 1100.7,1508.1 1101.7,1510.3 1102.7,1512.6 1103.7,1514.8 1104.6,1516.8 1105.6,1518.5 1106.6,1519.8 1107.5,1520.9 1108.5,1521.7 1109.5,1522.3 1110.4,1522.7 1111.4,1522.9 1112.4,1523.1 1113.3,1523.2 1114.3,1523.3 1115.3,1523.3 1116.2,1523.3 1117.2,1523.3 1118.2,1523.3 1119.1,1523.3 1120.1,1523.3 1121.1,1523.2 1122.0,1523.2 1123.0,1523.1 1124.0,1523.1 1124.9,1523.0 1125.9,1522.9 1126.9,1522.7 1127.8,1522.6 1128.8,1522.4 1129.8,1522.1 1130.7,1521.7 1131.7,1521.2 1132.7,1520.6 1133.6,1519.9 1134.6,1518.9 1135.6,1517.8 1136.5,1516.4 1137.5,1514.8 1138.5,1513.1 1139.5,1511.1 1140.4,1509.1 1141.4,1507.0 1142.4,1505.0 1143.3,1503.2 1144.3,1501.8 1145.3,1500.8 1146.2,1500.4 1147.2,1500.7 1148.2,1501.6 1149.1,1502.9 1150.1,1504.6 1151.1,1506.6 1152.0,1508.6 1153.0,1510.6 1154.0,1512.5 1154.9,1514.3 1155.9,1515.8 1156.9,1517.2 1157.8,1518.3 1158.8,1519.2 1159.8,1519.9 1160.7,1520.5 1161.7,1520.9 1162.7,1521.2 1163.6,1521.5 1164.6,1521.6 1165.6,1521.8 1166.5,1521.8 1167.5,1521.9 1168.7,1521.9 1169.9,1522.0 1171.1,1522.0 1172.4,1522.0 1173.6,1521.9 1174.8,1521.9 1176.0,1521.9 1177.2,1521.9 1178.4,1521.8 1179.6,1521.8 1180.8,1521.7 1182.0,1521.7 1183.2,1521.6 1184.4,1521.6 1185.7,1521.5 1186.9,1521.5 1188.1,1521.4 1189.3,1521.3 1190.5,1521.3 1191.7,1521.2 1192.9,1521.1 1194.1,1521.0 1195.3,1520.9 1196.5,1520.8 1197.8,1520.7 1199.0,1520.6 1200.2,1520.5 1201.3,1520.4 1202.4,1520.3 1203.6,1520.2 1204.7,1520.0 1205.9,1519.9 1207.0,1519.8 1208.1,1519.6 1209.3,1519.5 1210.4,1519.3 1211.5,1519.2 1212.7,1519.0 1213.8,1518.8 1215.0,1518.6 1216.1,1518.4 1217.2,1518.2 1218.4,1518.0 1219.5,1517.8 1220.6,1517.5 1221.8,1517.3 1222.9,1517.0 1224.0,1516.7 1225.2,1516.4 1226.3,1516.1 1227.5,1515.7 1228.6,1515.4 1229.7,1515.0 1230.9,1514.6 1232.0,1514.1 1233.1,1513.6 1234.3,1513.1 1235.4,1512.6 1236.6,1512.0 1237.7,1511.4 1238.8,1510.7 1240.0,1510.0 1241.1,1509.2 1242.2,1508.3 1243.4,1507.4 1244.5,1506.4 1245.6,1505.3 1246.8,1504.1 1247.9,1502.8 1249.1,1501.3 1250.2,1499.7 1251.3,1497.9 1252.5,1496.0 1253.6,1493.8 1254.7,1491.3 1255.9,1488.5 1257.0,1485.3 1258.2,1481.6 1259.3,1477.3 1260.4,1472.2 1261.6,1465.8 1262.7,1457.7 1263.8,1447.0 1265.0,1432.7 1266.1,1413.0 1267.3,1386.1 1268.4,1349.2 1269.5,1299.8 1270.7,1234.9 1271.8,1152.2 1272.9,1050.5 1274.1,930.1 1275.2,793.7 1276.3,647.0 1277.5,499.0 1278.6,362.8 1279.8,255.1 1280.9,193.0 1282.0,188.5 1283.2,242.5 1284.3,344.4 1285.4,477.5 1286.6,624.6 1287.7,772.2 1288.9,910.5 1290.0,1033.5 1291.1,1138.0 1292.3,1223.5 1293.4,1290.8 1294.5,1342.4 1295.7,1380.9 1296.8,1409.1 1297.9,1429.7 1299.1,1444.7 1300.2,1455.8 1301.4,1464.2 1302.5,1470.7 1303.6,1476.0 1304.8,1480.4 1305.8,1483.8 1306.8,1486.7 1307.8,1489.3 1308.8,1491.6 1309.8,1493.7 1310.9,1495.6 1311.9,1497.3 1312.9,1498.9 1313.9,1500.3 1314.9,1501.6 1315.9,1502.8 1317.0,1503.9 1318.0,1504.9 1319.0,1505.8 1320.0,1506.6 1321.0,1507.4 1322.0,1508.1 1323.1,1508.8 1324.1,1509.4 1325.1,1510.0 1326.1,1510.5 1327.1,1511.0 1328.1,1511.5 1329.2,1511.9 1330.2,1512.3 1331.2,1512.6 1332.2,1513.0 1333.2,1513.3 1334.2,1513.5 1335.2,1513.8 1336.3,1514.0 1337.3,1514.2 1338.3,1514.4 1339.3,1514.6 1340.3,1514.7 1341.3,1514.8 1342.4,1514.9 1343.4,1515.0 1344.4,1515.1 1345.4,1515.1 1346.4,1515.1 1347.4,1515.1 1348.5,1515.0 1349.5,1514.9 1350.5,1514.8 1351.5,1514.6 1352.5,1514.4 1353.5,1514.2 1354.6,1513.9 1355.6,1513.5 1356.6,1513.0 1357.6,1512.4 1358.6,1511.7 1359.6,1510.8 1360.6,1509.5 1361.7,1507.9 1362.7,1505.6 1363.7,1502.4 1364.7,1498.0 1365.7,1492.0 1366.7,1483.8 1367.8,1473.2 1368.8,1459.6 1369.8,1443.0 1370.8,1423.5 1371.8,1401.5 1372.8,1378.0 1373.9,1354.5 1374.9,1333.4 1375.9,1317.1 1376.9,1308.6 1377.9,1309.3 1378.9,1319.3 1380.0,1336.5 1381.0,1358.3 1382.0,1382.0 1383.0,1405.5 1384.0,1427.3 1385.0,1446.6 1386.0,1462.9 1387.1,1476.1 1388.1,1486.6 1389.1,1494.5 1390.1,1500.4 1391.1,1504.8 1392.1,1508.0 1393.2,1510.3 1394.2,1512.1 1395.2,1513.4 1396.2,1514.5 1397.2,1515.3 1398.2,1516.0 1399.3,1516.7 1400.3,1517.2 1401.3,1517.7 1402.3,1518.1 1403.3,1518.5 1404.3,1518.9 1405.4,1519.2 1406.4,1519.5 1407.4,1519.7 1408.4,1520.0 1409.4,1520.2 1410.4,1520.4 1411.4,1520.6 1412.5,1520.8 1413.5,1521.0 1414.5,1521.1 1415.5,1521.3 1416.5,1521.4 1417.5,1521.5 1418.6,1521.6 1419.6,1521.8 1420.6,1521.9 1421.6,1522.0 1422.6,1522.1 1423.6,1522.1 1424.7,1522.2 1425.7,1522.3 1426.7,1522.4 1427.7,1522.5 1428.7,1522.5 1429.7,1522.6 1430.8,1522.7 1431.8,1522.7 1432.8,1522.8 1433.8,1522.9 1434.8,1522.9 1435.8,1523.0 1436.8,1523.0 1437.9,1523.1 1438.9,1523.1 1439.9,1523.2 1440.9,1523.2 1441.9,1523.3 1442.9,1523.3 1444.0,1523.3 1445.0,1523.4 1446.0,1523.4 1447.0,1523.5 1448.0,1523.5 1449.0,1523.5 1450.1,1523.6 1451.1,1523.6 1454.0,1523.7 1456.9,1523.8 1459.8,1523.9 1462.7,1524.0 1465.6,1524.0 1468.5,1524.1 1471.4,1524.2 1474.3,1524.2 1477.2,1524.3 1480.1,1524.4 1483.0,1524.4 1485.9,1524.5 1488.8,1524.5 1491.7,1524.6 1494.6,1524.6 1497.5,1524.7 1500.4,1524.7 1503.3,1524.8 1506.2,1524.8 1509.1,1524.9 1512.0,1524.9 1514.9,1524.9 1517.8,1525.0 1520.7,1525.0 1523.6,1525.1 1526.5,1525.1 1529.5,1525.1 1532.4,1525.2 1535.3,1525.2 1538.2,1525.3 1541.1,1525.3 1544.0,1525.3 1546.9,1525.4 1549.8,1525.4 1552.7,1525.4 1555.6,1525.5 1558.5,1525.5 1561.4,1525.5 1564.3,1525.6 1567.2,1525.6 1570.1,1525.6 1573.0,1525.7 1575.9,1525.7 1578.8,1525.7 1581.7,1525.7 1584.6,1525.8 1587.5,1525.8 1590.4,1525.8 1593.3,1525.9 1596.2,1525.9 1599.1,1525.9 1602.0,1526.0 1604.9,1526.0 1607.8,1526.0 1610.7,1526.0 1613.6,1526.1 1616.5,1526.1 1619.4,1526.1 1622.3,1526.1 1625.2,1526.2 1628.1,1526.2 1631.1,1526.2 1634.0,1526.3 1636.9,1526.3 1639.8,1526.3 1642.7,1526.3 1645.6,1526.4 1648.5,1526.4 1651.4,1526.4 1654.3,1526.4 1657.2,1526.5 1660.1,1526.5 1663.0,1526.5 1664.2,1526.5 1665.4,1526.5 1666.6,1526.5 1667.8,1526.5 1669.0,1526.6 1670.2,1526.6 1671.4,1526.6 1672.7,1526.6 1673.9,1526.6 1675.1,1526.6 1676.3,1526.6 1677.5,1526.6 1678.7,1526.6 1679.9,1526.6 1681.1,1526.7 1682.3,1526.7 1683.5,1526.7 1684.8,1526.7 1686.0,1526.7 1687.2,1526.7 1688.4,1526.7 1689.6,1526.7 1690.8,1526.7 1692.0,1526.7 1693.2,1526.7 1694.4,1526.7 1695.6,1526.8 1696.8,1526.8 1698.1,1526.8 1699.3,1526.8 1700.5,1526.8 1701.7,1526.8 1702.9,1526.8 1704.1,1526.8 1705.3,1526.8 1706.5,1526.8 1707.7,1526.8 1708.9,1526.8 1710.2,1526.8 1711.4,1526.8 1712.6,1526.8 1713.8,1526.8 1715.0,1526.8 1716.2,1526.8 1717.4,1526.8 1718.6,1526.8 1719.8,1526.8 1721.0,1526.8 1722.2,1526.8 1723.5,1526.8 1724.7,1526.8 1725.9,1526.7 1727.1,1526.7 1728.3,1526.6 1729.5,1526.5 1730.7,1526.4 1731.9,1526.2 1733.1,1525.9 1734.3,1525.5 1735.6,1525.0 1736.8,1524.2 1738.0,1523.3 1739.2,1522.2 1740.4,1520.9 1741.6,1519.5 1742.8,1518.1 1744.0,1516.8 1745.2,1515.7 1746.4,1514.9 1747.6,1514.6 1748.9,1514.8 1750.1,1515.5 1751.3,1516.6 1752.5,1517.9 1753.7,1519.3 1754.9,1520.7 1756.1,1522.0 1757.3,1523.2 1758.5,1524.2 1759.7,1524.9 1761.0,1525.5 1762.2,1525.9 1763.4,1526.2 1764.6,1526.5 1765.8,1526.6 1767.0,1526.7 1768.2,1526.8 1769.4,1526.8 1770.6,1526.9 1771.8,1526.9 1773.0,1526.9 1774.3,1526.9 1775.5,1526.9 1776.7,1527.0 1777.9,1527.0 1779.1,1527.0 1780.3,1527.0 1781.5,1527.0 1782.7,1527.0 1783.9,1527.0 1785.1,1527.0 1786.4,1527.0 1787.6,1527.0 1788.8,1527.1 1790.0,1527.1 1791.2,1527.1 1792.4,1527.1 1793.6,1527.1 1794.8,1527.1 1796.0,1527.1 1797.2,1527.1 1798.4,1527.1 1799.7,1527.1 1800.9,1527.1 1802.1,1527.1 1803.3,1527.1 1804.5,1527.1 1805.7,1527.1 1806.9,1527.1 1808.1,1527.1 1809.3,1527.1 1810.5,1527.1 1811.8,1527.1 1813.0,1527.1 1814.2,1527.1 1815.4,1527.1 1816.6,1527.1 1817.8,1527.1 1819.0,1527.1 1820.2,1527.1 1821.4,1527.1 1822.6,1527.0 1823.8,1527.0 1825.1,1527.0 1826.3,1527.0 1827.5,1527.0 1828.7,1527.0 1829.9,1526.9 1831.1,1526.8 1832.3,1526.7 1833.5,1526.6 1834.7,1526.4 1835.9,1526.1 1837.2,1525.6 1838.4,1525.1 1839.6,1524.4 1840.8,1523.5 1842.0,1522.6 1843.2,1521.5 1844.4,1520.4 1845.6,1519.4 1846.8,1518.6 1848.0,1518.0 1849.2,1517.8 1850.5,1518.0 1851.7,1518.5 1852.9,1519.3 1854.1,1520.3 1855.3,1521.4 1856.5,1522.4 1857.7,1523.4 1858.9,1524.3 1860.1,1525.0 1861.3,1525.6 1862.6,1526.0 1863.8,1526.3 1865.0,1526.6 1866.2,1526.7 1867.4,1526.8 1868.6,1526.9 1869.8,1526.9 1871.0,1527.0 1872.2,1527.0 1873.4,1527.0 1874.6,1527.0 1875.9,1527.0 1877.1,1527.1 1878.3,1527.1 1879.5,1527.1 1880.7,1527.1 1881.9,1527.1 1883.1,1527.1 1884.3,1527.1 1885.5,1527.1 1886.7,1527.1 1888.0,1527.1 1889.2,1527.1 1890.4,1527.1 1891.6,1527.1 1892.8,1527.1 1894.0,1527.1 1895.2,1527.1 1896.4,1527.1 1897.6,1527.1 1898.8,1527.1 1900.0,1527.1 1901.3,1527.1 1902.5,1527.0 1903.7,1527.0 1904.9,1527.0 1906.1,1527.0 1907.3,1527.0 1908.5,1527.0 1909.7,1527.0 1910.9,1527.0 1912.1,1527.0 1913.4,1527.0 1914.6,1527.0 1915.8,1527.0 1917.0,1527.0 1918.2,1526.9 1919.4,1526.9 1920.6,1526.9 1921.8,1526.9 1923.0,1526.9 1924.2,1526.9 1925.4,1526.9 1926.7,1526.9 1927.9,1526.9 1929.1,1526.8 1930.3,1526.8 1931.5,1526.8 1932.7,1526.8 1933.9,1526.8 1935.1,1526.8 1936.3,1526.7 1937.5,1526.7 1940.4,1526.7 1943.3,1526.6 1944.8,1526.6 1946.3,1526.6 1947.8,1526.5 1949.3,1526.5 1950.8,1526.4 1952.3,1526.4 1953.8,1526.4 1955.3,1526.3 1956.8,1526.3 1958.3,1526.2 1959.8,1526.2 1961.3,1526.1 1962.8,1526.0 1964.3,1526.0 1965.8,1525.9 1967.3,1525.9 1968.8,1525.8 1970.3,1525.7 1971.8,1525.6 1973.3,1525.5 1974.8,1525.4 1976.3,1525.3 1977.8,1525.2 1979.3,1525.1 1980.8,1525.0 1982.3,1524.9 1983.8,1524.7 1985.3,1524.6 1986.8,1524.4 1988.3,1524.3 1989.8,1524.1 1991.3,1523.9 1992.8,1523.7 1994.3,1523.5 1995.8,1523.2 1997.3,1522.9 1998.8,1522.6 2000.3,1522.3 2001.8,1522.0 2003.3,1521.6 2004.8,1521.2 2006.3,1520.7 2007.8,1520.2 2009.3,1519.6 2010.8,1519.0 2012.3,1518.3 2013.8,1517.5 2015.3,1516.6 2016.8,1515.6 2018.3,1514.4 2019.8,1513.0 2021.3,1511.2 2022.8,1508.9 2024.3,1505.9 2025.8,1501.8 2027.3,1496.0 2028.8,1487.8 2030.3,1476.3 2031.8,1460.1 2033.3,1438.1 2034.8,1409.0 2036.3,1371.8 2037.8,1326.2 2039.3,1272.5 2040.8,1212.4 2042.3,1148.8 2043.8,1086.0 2045.3,1029.6 2046.8,986.5 2048.3,963.1 2049.8,963.5 2051.3,987.6 2052.8,1031.3 2054.3,1087.9 2055.8,1150.9 2057.3,1214.5 2058.8,1274.4 2060.3,1327.8 2061.8,1373.2 2063.3,1410.1 2064.8,1438.9 2066.3,1460.8 2067.8,1476.8 2069.3,1488.2 2070.8,1496.3 2072.3,1502.1 2073.8,1506.1 2075.3,1509.1 2076.8,1511.3 2078.3,1513.1 2079.8,1514.5 2081.3,1515.7 2082.8,1516.8 2084.3,1517.7 2085.8,1518.5 2087.3,1519.2 2088.8,1519.8 2090.3,1520.4 2091.8,1520.9 2093.3,1521.3 2094.8,1521.8 2096.3,1522.1 2097.8,1522.5 2099.3,1522.8 2100.8,1523.1 2102.3,1523.4 2103.8,1523.6 2105.3,1523.9 2106.8,1524.1 2108.3,1524.3 2109.8,1524.5 2111.3,1524.6 2112.8,1524.8 2114.3,1525.0 2115.8,1525.1 2117.3,1525.2 2118.8,1525.4 2120.3,1525.5 2121.8,1525.6 2123.3,1525.7 2124.8,1525.8 2126.3,1525.9 2127.8,1526.0 2129.3,1526.0 2130.8,1526.1 2132.3,1526.2 2133.8,1526.3 2135.3,1526.3 2136.8,1526.4 2138.3,1526.5 2139.8,1526.5 2141.3,1526.6 2142.8,1526.6 2144.3,1526.7 2145.8,1526.7 2147.3,1526.8 2148.8,1526.8 2150.3,1526.9 2151.8,1526.9 2153.3,1526.9 2154.8,1527.0 2156.3,1527.0 2157.8,1527.0 2160.7,1527.1 2163.6,1527.2 2166.5,1527.2 2169.4,1527.3 2172.3,1527.3 2175.2,1527.4 2178.1,1527.4 2181.0,1527.4 2183.9,1527.5 2186.9,1527.5 2189.8,1527.6 2192.7,1527.6 2195.6,1527.6 2198.5,1527.6 2201.4,1527.7 2204.3,1527.7 2207.2,1527.7 2210.1,1527.8 2213.0,1527.8 2215.9,1527.8 2218.8,1527.8 2221.7,1527.8 2224.6,1527.9 2227.5,1527.9 2230.4,1527.9 2233.3,1527.9 2236.2,1527.9 2239.1,1527.9 2242.0,1528.0 2244.9,1528.0 2247.8,1528.0 2250.7,1528.0 2253.6,1528.0 2256.5,1528.0 2259.4,1528.0 2262.3,1528.1 2265.2,1528.1 2268.1,1528.1 2271.0,1528.1 2273.9,1528.1 2276.8,1528.1 2279.7,1528.1 2282.6,1528.1 2285.5,1528.2 2288.5,1528.2 2291.4,1528.2 2294.3,1528.2 2297.2,1528.2 2300.1,1528.2 2303.0,1528.2 2305.9,1528.2 2308.8,1528.2 2311.7,1528.2 2314.6,1528.2 2317.5,1528.3 2320.4,1528.3 2323.3,1528.3 2326.2,1528.3 2329.1,1528.3 2332.0,1528.3 2334.9,1528.3 2337.8,1528.3 2340.7,1528.3 2343.6,1528.3 2346.5,1528.3 2349.4,1528.3 2352.3,1528.3 2355.2,1528.4 2358.1,1528.4 2361.0,1528.4 2363.9,1528.4 2366.8,1528.4 2369.7,1528.4 2372.6,1528.4 2375.5,1528.4 2378.4,1528.4 2381.3,1528.4 2384.2,1528.4 2387.1,1528.4 2390.1,1528.4 2393.0,1528.4 2395.9,1528.4 2398.8,1528.5 2401.7,1528.5 2404.6,1528.5 2407.5,1528.5 2410.4,1528.5 2412.5,1528.5" fill="none" stroke="#0000ff" stroke-width="7.5" stroke-linejoin="round" stroke-linecap="butt"/>
<path d="M380.5,1526.4 383.4,1526.4 386.3,1526.4 389.2,1526.4 392.1,1526.4 395.0,1526.4 397.9,1526.4 400.8,1526.4 403.7,1526.4 406.6,1526.4 409.5,1526.4 412.4,1526.4 415.3,1526.4 418.2,1526.4 421.1,1526.4 424.0,1526.4 426.9,1526.4 429.8,1526.4 432.8,1526.4 435.7,1526.4 438.6,1526.4 441.5,1526.3 444.4,1526.3 447.3,1526.3 450.2,1526.3 453.1,1526.3 456.0,1526.2 458.9,1526.2 461.8,1526.2 464.7,1526.1 467.6,1526.1 470.5,1526.0 473.4,1526.0 476.3,1525.9 479.2,1525.8 482.1,1525.8 485.0,1525.7 487.9,1525.5 488.8,1525.5 489.7,1525.5 490.7,1525.4 491.6,1525.4 492.5,1525.3 493.4,1525.3 494.3,1525.2 495.3,1525.1 496.2,1525.1 497.1,1525.0 498.0,1524.9 498.9,1524.9 499.9,1524.8 500.8,1524.7 501.7,1524.6 502.6,1524.5 503.5,1524.5 504.5,1524.4 505.4,1524.2 506.3,1524.1 507.2,1524.0 508.1,1523.9 509.0,1523.7 510.0,1523.6 510.9,1523.4 511.8,1523.3 512.7,1523.1 513.6,1522.9 514.6,1522.7 515.5,1522.5 516.4,1522.2 517.3,1522.0 518.2,1521.7 519.2,1521.4 520.1,1521.1 521.0,1520.7 521.9,1520.3 522.8,1519.9 523.8,1519.4 524.7,1518.9 525.6,1518.4 526.5,1517.7 527.4,1517.0 528.4,1516.3 529.3,1515.4 530.2,1514.4 531.1,1513.3 532.0,1512.0 532.9,1510.6 533.9,1508.8 534.8,1506.6 535.7,1503.8 536.6,1500.1 537.5,1495.0 538.5,1487.9 539.4,1477.8 540.3,1463.5 541.2,1443.5 542.1,1416.4 543.1,1380.4 544.0,1334.6 544.9,1278.3 545.8,1212.2 546.7,1138.2 547.7,1059.8 548.6,982.5 549.5,913.3 550.4,860.5 551.3,831.9 552.3,832.7 553.2,862.7 554.1,916.7 555.0,986.5 555.9,1064.0 556.8,1142.3 557.8,1215.9 558.7,1281.6 559.6,1337.3 560.5,1382.6 561.4,1418.1 562.4,1444.8 563.3,1464.5 564.2,1478.5 565.1,1488.5 566.0,1495.5 567.0,1500.5 567.9,1504.1 568.8,1506.9 569.7,1509.1 570.6,1510.8 571.6,1512.3 572.5,1513.6 573.4,1514.7 574.3,1515.7 575.2,1516.5 576.2,1517.3 577.1,1518.0 578.0,1518.6 578.9,1519.2 579.8,1519.7 580.7,1520.2 581.7,1520.6 582.6,1521.0 583.5,1521.4 584.4,1521.7 585.3,1522.0 586.3,1522.3 587.2,1522.6 588.1,1522.8 589.0,1523.1 589.9,1523.3 590.9,1523.5 591.8,1523.7 592.7,1523.8 593.6,1524.0 594.5,1524.2 595.5,1524.3 596.4,1524.4 597.3,1524.6 598.2,1524.7 599.1,1524.8 600.1,1524.9 601.0,1525.0 601.9,1525.1 602.8,1525.2 603.7,1525.3 604.6,1525.4 605.6,1525.5 606.5,1525.5 607.4,1525.6 608.3,1525.7 609.2,1525.7 610.2,1525.8 611.1,1525.9 612.0,1525.9 612.9,1526.0 613.8,1526.0 614.8,1526.1 615.7,1526.1 616.6,1526.2 617.5,1526.2 618.4,1526.3 621.3,1526.4 624.2,1526.5 627.1,1526.6 630.0,1526.7 633.0,1526.8 635.9,1526.9 638.8,1527.0 641.7,1527.0 644.6,1527.1 647.5,1527.1 650.4,1527.2 653.3,1527.2 656.2,1527.3 659.1,1527.3 662.0,1527.4 664.9,1527.4 667.8,1527.4 670.7,1527.5 673.6,1527.5 676.5,1527.5 679.4,1527.6 680.3,1527.6 681.1,1527.6 682.0,1527.6 682.9,1527.6 683.8,1527.6 684.6,1527.6 685.5,1527.6 686.4,1527.6 687.2,1527.6 688.1,1527.7 689.0,1527.7 689.8,1527.7 690.7,1527.7 691.6,1527.7 692.5,1527.7 693.3,1527.7 694.2,1527.7 695.1,1527.7 695.9,1527.7 696.8,1527.7 697.7,1527.7 698.6,1527.7 699.4,1527.7 700.3,1527.7 701.2,1527.7 702.0,1527.8 702.9,1527.8 703.8,1527.8 704.7,1527.8 705.5,1527.8 706.4,1527.8 707.3,1527.8 708.1,1527.8 709.0,1527.8 709.9,1527.8 710.7,1527.8 711.6,1527.8 712.5,1527.8 713.4,1527.8 714.2,1527.8 715.1,1527.8 716.0,1527.8 716.8,1527.8 717.7,1527.8 718.6,1527.8 719.5,1527.8 720.3,1527.7 721.2,1527.7 722.1,1527.7 722.9,1527.7 723.8,1527.7 724.7,1527.6 725.6,1527.6 726.4,1527.5 727.3,1527.5 728.2,1527.3 729.0,1527.2 729.9,1526.9 730.8,1526.6 731.6,1526.1 732.5,1525.5 733.4,1524.7 734.3,1523.7 735.1,1522.6 736.0,1521.4 736.9,1520.2 737.7,1519.0 738.6,1518.0 739.5,1517.3 740.4,1517.0 741.2,1517.2 742.1,1517.8 743.0,1518.8 743.8,1519.9 744.7,1521.2 745.6,1522.4 746.5,1523.5 747.3,1524.5 748.2,1525.4 749.1,1526.0 749.9,1526.5 750.8,1526.9 751.7,1527.2 752.5,1527.4 753.4,1527.5 754.3,1527.6 755.2,1527.7 756.0,1527.8 756.9,1527.8 757.8,1527.8 758.6,1527.9 759.5,1527.9 760.4,1527.9 761.3,1527.9 762.1,1528.0 763.0,1528.0 763.9,1528.0 764.7,1528.0 765.6,1528.0 766.5,1528.0 767.4,1528.0 768.2,1528.0 769.1,1528.1 770.0,1528.1 770.8,1528.1 771.7,1528.1 772.6,1528.1 773.5,1528.1 774.3,1528.1 775.2,1528.1 776.1,1528.1 776.9,1528.1 777.8,1528.1 778.7,1528.1 779.5,1528.1 780.4,1528.1 781.3,1528.1 782.2,1528.1 783.0,1528.2 783.9,1528.2 784.8,1528.2 785.6,1528.2 786.5,1528.2 787.4,1528.2 788.3,1528.2 789.1,1528.2 790.0,1528.2 790.9,1528.2 791.7,1528.2 792.6,1528.2 793.5,1528.2 794.4,1528.2 795.2,1528.2 796.1,1528.2 797.0,1528.2 797.8,1528.2 798.7,1528.2 799.6,1528.2 800.4,1528.2 801.3,1528.2 802.2,1528.2 803.1,1528.2 803.9,1528.2 806.8,1528.2 809.7,1528.3 812.6,1528.3 815.5,1528.3 818.4,1528.3 821.3,1528.3 824.3,1528.3 827.2,1528.3 830.1,1528.3 833.0,1528.3 835.9,1528.3 838.8,1528.3 841.7,1528.3 844.6,1528.3 847.5,1528.3 850.4,1528.4 853.3,1528.4 856.2,1528.4 859.1,1528.4 862.0,1528.4 864.9,1528.4 867.8,1528.4 870.7,1528.4 873.6,1528.4 876.5,1528.4 879.4,1528.4 882.3,1528.4 885.2,1528.4 888.1,1528.4 891.0,1528.4 893.9,1528.4 896.8,1528.4 899.7,1528.5 902.6,1528.5 905.5,1528.5 908.4,1528.5 911.3,1528.5 914.2,1528.5 917.1,1528.5 920.0,1528.5 922.9,1528.5 925.9,1528.5 928.8,1528.5 931.7,1528.5 934.6,1528.5 937.5,1528.5 940.4,1528.5 943.3,1528.5 946.2,1528.5 949.1,1528.5 952.0,1528.5 954.9,1528.5 957.8,1528.5 960.7,1528.5 963.6,1528.6 966.5,1528.6 969.4,1528.6 972.3,1528.6 975.2,1528.6 978.1,1528.6 981.0,1528.6 983.9,1528.6 986.8,1528.6 989.7,1528.6 992.6,1528.6 995.5,1528.6 998.4,1528.6 1001.3,1528.6 1004.2,1528.6 1007.1,1528.6 1010.0,1528.6 1012.9,1528.6 1015.8,1528.6 1018.7,1528.6 1021.6,1528.6 1024.5,1528.6 1027.5,1528.6 1030.4,1528.6 1033.3,1528.6 1036.2,1528.6 1039.1,1528.6 1042.0,1528.6 1044.9,1528.6 1047.8,1528.6 1050.7,1528.6 1053.6,1528.6 1056.5,1528.6 1059.4,1528.6 1062.3,1528.5 1063.1,1528.4 1063.8,1528.4 1064.6,1528.4 1065.4,1528.3 1066.2,1528.3 1066.9,1528.3 1067.7,1528.3 1068.5,1528.2 1069.3,1528.2 1070.0,1528.2 1070.8,1528.1 1071.6,1528.1 1072.3,1528.1 1073.1,1528.1 1073.9,1528.0 1074.7,1528.0 1075.4,1528.0 1076.2,1527.9 1077.0,1527.9 1077.8,1527.9 1078.5,1527.8 1079.3,1527.8 1080.1,1527.8 1080.9,1527.7 1081.6,1527.7 1082.4,1527.7 1083.2,1527.6 1084.0,1527.6 1084.7,1527.6 1085.5,1527.5 1086.3,1527.5 1087.1,1527.5 1087.8,1527.4 1088.6,1527.4 1089.4,1527.3 1090.2,1527.3 1090.9,1527.2 1091.7,1527.2 1092.5,1527.2 1093.2,1527.1 1094.0,1527.1 1094.8,1527.0 1095.6,1527.0 1096.3,1526.9 1097.1,1526.8 1097.9,1526.8 1098.7,1526.7 1099.4,1526.6 1100.2,1526.6 1101.0,1526.5 1101.8,1526.4 1102.5,1526.3 1103.3,1526.1 1104.1,1526.0 1104.9,1525.8 1105.6,1525.5 1106.4,1525.2 1107.2,1524.7 1108.0,1524.1 1108.7,1523.2 1109.5,1522.0 1110.3,1520.4 1111.1,1518.3 1111.8,1515.8 1112.6,1512.8 1113.4,1509.3 1114.1,1505.7 1114.9,1501.9 1115.7,1498.5 1116.5,1495.7 1117.2,1494.0 1118.0,1493.6 1118.8,1494.6 1119.6,1496.9 1120.3,1500.0 1121.1,1503.5 1121.9,1507.2 1122.7,1510.7 1123.4,1513.9 1124.2,1516.6 1125.0,1518.8 1125.8,1520.6 1126.5,1521.9 1127.3,1522.9 1128.1,1523.6 1128.9,1524.1 1129.6,1524.4 1130.4,1524.6 1131.2,1524.8 1132.0,1524.9 1132.7,1524.9 1133.5,1525.0 1134.3,1525.0 1135.0,1525.0 1135.8,1525.0 1136.6,1525.1 1137.4,1525.1 1138.1,1525.1 1138.9,1525.1 1139.7,1525.1 1140.5,1525.1 1141.2,1525.1 1142.0,1525.0 1142.8,1525.0 1143.6,1525.0 1144.3,1525.0 1145.1,1524.9 1145.9,1524.8 1146.7,1524.8 1147.4,1524.7 1148.2,1524.6 1149.0,1524.4 1149.8,1524.2 1150.5,1524.0 1151.3,1523.7 1152.1,1523.3 1152.9,1522.9 1153.6,1522.3 1154.4,1521.7 1155.2,1520.9 1155.9,1519.9 1156.7,1518.9 1157.5,1517.7 1158.3,1516.4 1159.0,1514.9 1159.8,1513.4 1160.6,1511.8 1161.4,1510.2 1162.1,1508.5 1162.9,1507.0 1163.7,1505.7 1164.5,1504.5 1165.2,1503.7 1166.0,1503.2 1166.8,1503.0 1167.6,1503.3 1168.3,1504.0 1169.1,1505.0 1169.9,1506.2 1170.7,1507.7 1171.4,1509.2 1172.2,1510.8 1173.0,1512.4 1173.8,1514.0 1175.0,1516.3 1176.2,1518.2 1177.4,1519.9 1178.6,1521.2 1179.8,1522.2 1181.0,1522.9 1182.2,1523.5 1183.4,1523.9 1184.6,1524.1 1185.8,1524.3 1187.1,1524.4 1188.3,1524.5 1189.5,1524.5 1190.7,1524.6 1191.9,1524.6 1193.1,1524.6 1194.3,1524.6 1195.5,1524.6 1196.7,1524.6 1197.9,1524.6 1199.2,1524.6 1200.4,1524.6 1201.6,1524.6 1202.8,1524.5 1204.0,1524.5 1205.2,1524.5 1206.4,1524.5 1207.6,1524.4 1208.8,1524.4 1210.0,1524.4 1211.2,1524.3 1212.5,1524.3 1213.7,1524.2 1214.9,1524.2 1216.1,1524.1 1217.3,1524.1 1218.5,1524.0 1219.7,1524.0 1220.9,1523.9 1222.1,1523.9 1223.3,1523.8 1224.6,1523.7 1225.8,1523.7 1227.0,1523.6 1228.2,1523.5 1229.4,1523.4 1230.6,1523.3 1231.8,1523.2 1233.0,1523.1 1234.0,1523.0 1235.0,1523.0 1235.9,1522.9 1236.9,1522.8 1237.9,1522.7 1238.8,1522.6 1239.8,1522.5 1240.8,1522.3 1241.7,1522.2 1242.7,1522.1 1243.7,1522.0 1244.6,1521.8 1245.6,1521.7 1246.6,1521.5 1247.5,1521.4 1248.5,1521.2 1249.5,1521.0 1250.4,1520.8 1251.4,1520.6 1252.4,1520.4 1253.3,1520.2 1254.3,1520.0 1255.3,1519.7 1256.2,1519.5 1257.2,1519.2 1258.2,1518.9 1259.1,1518.6 1260.1,1518.2 1261.1,1517.9 1262.0,1517.5 1263.0,1517.1 1264.0,1516.6 1265.0,1516.1 1265.9,1515.6 1266.9,1515.1 1267.9,1514.4 1268.8,1513.8 1269.8,1513.1 1270.8,1512.3 1271.7,1511.5 1272.7,1510.5 1273.7,1509.5 1274.6,1508.4 1275.6,1507.1 1276.6,1505.8 1277.5,1504.2 1278.5,1502.5 1279.5,1500.6 1280.4,1498.5 1281.4,1496.0 1282.4,1493.2 1283.3,1489.9 1284.3,1485.9 1285.3,1481.1 1286.2,1475.0 1287.2,1467.1 1288.2,1456.7 1289.1,1442.6 1290.1,1423.5 1291.1,1397.7 1292.0,1363.5 1293.0,1318.9 1294.0,1262.6 1294.9,1193.6 1295.9,1112.2 1296.9,1020.2 1297.9,921.4 1298.8,822.0 1299.8,731.1 1300.8,660.6 1301.7,622.5 1302.7,624.6 1303.7,666.4 1304.6,739.4 1305.6,831.6 1306.6,931.3 1307.5,1029.7 1308.5,1120.7 1309.5,1200.9 1310.4,1268.6 1311.4,1323.6 1312.4,1367.1 1313.3,1400.3 1314.3,1425.3 1315.3,1443.8 1316.2,1457.5 1317.2,1467.6 1318.2,1475.3 1319.1,1481.2 1320.1,1485.9 1321.1,1489.7 1322.0,1492.9 1323.0,1495.7 1324.0,1498.1 1324.9,1500.2 1325.9,1502.1 1326.9,1503.7 1327.8,1505.2 1328.8,1506.5 1329.8,1507.7 1330.8,1508.8 1331.7,1509.7 1332.7,1510.6 1333.7,1511.4 1334.6,1512.2 1335.6,1512.8 1336.6,1513.4 1337.5,1514.0 1338.5,1514.5 1339.5,1515.0 1340.4,1515.4 1341.4,1515.8 1342.4,1516.1 1343.3,1516.5 1344.3,1516.8 1345.3,1517.0 1346.2,1517.3 1347.2,1517.5 1348.2,1517.7 1349.1,1517.9 1350.1,1518.1 1351.1,1518.2 1352.0,1518.4 1353.0,1518.5 1354.0,1518.6 1354.9,1518.7 1355.9,1518.7 1356.9,1518.8 1357.8,1518.8 1358.8,1518.8 1359.8,1518.8 1360.7,1518.8 1361.7,1518.8 1362.7,1518.8 1363.6,1518.7 1364.6,1518.6 1365.6,1518.5 1366.6,1518.4 1367.5,1518.2 1368.5,1518.0 1369.5,1517.8 1370.4,1517.6 1371.4,1517.3 1372.4,1517.0 1373.3,1516.6 1374.3,1516.2 1375.3,1515.7 1376.2,1515.1 1377.2,1514.5 1378.2,1513.7 1379.1,1512.9 1380.1,1511.8 1381.1,1510.6 1382.0,1509.0 1383.0,1506.9 1384.0,1504.2 1384.9,1500.5 1385.9,1495.4 1386.9,1488.3 1387.8,1478.7 1388.8,1465.9 1389.8,1449.2 1390.7,1428.0 1391.7,1402.1 1392.7,1371.8 1393.6,1337.8 1394.6,1301.6 1395.6,1265.8 1396.5,1233.8 1397.5,1209.6 1398.5,1197.5 1399.5,1199.7 1400.4,1215.9 1401.4,1242.9 1402.4,1276.5 1403.3,1312.8 1404.3,1348.6 1405.3,1381.6 1406.2,1410.8 1407.2,1435.3 1408.2,1455.1 1409.1,1470.7 1410.1,1482.6 1411.1,1491.4 1412.0,1497.8 1413.0,1502.5 1414.0,1505.9 1414.9,1508.5 1415.9,1510.5 1416.9,1512.0 1417.8,1513.3 1418.8,1514.3 1419.8,1515.2 1420.7,1516.0 1421.7,1516.7 1422.7,1517.3 1423.6,1517.8 1424.6,1518.3 1425.6,1518.8 1426.5,1519.2 1427.5,1519.5 1428.5,1519.9 1429.4,1520.2 1430.4,1520.4 1431.4,1520.7 1432.4,1520.9 1433.3,1521.2 1434.3,1521.4 1435.3,1521.5 1436.2,1521.7 1437.2,1521.9 1438.2,1522.0 1439.1,1522.2 1440.1,1522.3 1441.1,1522.4 1442.0,1522.6 1443.0,1522.7 1444.0,1522.8 1444.9,1522.9 1445.9,1523.0 1446.9,1523.0 1447.8,1523.1 1448.8,1523.2 1449.8,1523.3 1450.7,1523.3 1451.7,1523.4 1452.7,1523.5 1453.6,1523.5 1454.6,1523.6 1455.6,1523.7 1456.5,1523.7 1457.5,1523.8 1458.5,1523.8 1459.4,1523.9 1460.4,1523.9 1461.4,1523.9 1462.3,1524.0 1463.3,1524.0 1464.3,1524.1 1465.2,1524.1 1466.2,1524.1 1467.2,1524.2 1468.2,1524.2 1469.1,1524.2 1472.0,1524.3 1474.9,1524.4 1477.8,1524.5 1480.7,1524.5 1483.6,1524.6 1486.5,1524.7 1489.4,1524.7 1492.3,1524.8 1495.2,1524.8 1498.1,1524.8 1501.1,1524.9 1504.0,1524.9 1506.9,1524.9 1509.8,1525.0 1512.7,1525.0 1515.6,1525.0 1518.5,1525.1 1521.4,1525.1 1524.3,1525.1 1527.2,1525.1 1530.1,1525.2 1533.0,1525.2 1535.9,1525.2 1538.8,1525.2 1541.7,1525.2 1544.6,1525.3 1547.5,1525.3 1550.4,1525.3 1553.3,1525.3 1556.2,1525.3 1559.1,1525.3 1562.0,1525.3 1564.9,1525.4 1567.8,1525.4 1570.7,1525.4 1573.6,1525.4 1576.5,1525.4 1579.4,1525.4 1582.3,1525.4 1585.2,1525.4 1588.1,1525.4 1591.0,1525.5 1593.9,1525.5 1596.8,1525.5 1599.7,1525.5 1602.7,1525.5 1605.6,1525.5 1608.5,1525.5 1611.4,1525.5 1614.3,1525.5 1617.2,1525.5 1620.1,1525.5 1623.0,1525.6 1625.9,1525.6 1628.8,1525.6 1631.7,1525.6 1634.6,1525.6 1637.5,1525.6 1640.4,1525.6 1643.3,1525.6 1646.2,1525.6 1649.1,1525.6 1652.0,1525.6 1654.9,1525.6 1657.8,1525.6 1660.7,1525.6 1663.6,1525.6 1666.5,1525.6 1669.4,1525.7 1672.3,1525.7 1675.2,1525.7 1678.1,1525.7 1681.0,1525.7 1682.2,1525.7 1683.4,1525.7 1684.7,1525.7 1685.9,1525.7 1687.1,1525.7 1688.3,1525.7 1689.5,1525.7 1690.7,1525.7 1691.9,1525.7 1693.1,1525.7 1694.3,1525.7 1695.5,1525.7 1696.8,1525.7 1698.0,1525.7 1699.2,1525.7 1700.4,1525.7 1701.6,1525.7 1702.8,1525.7 1704.0,1525.7 1705.2,1525.7 1706.4,1525.7 1707.6,1525.7 1708.8,1525.7 1710.1,1525.7 1711.3,1525.7 1712.5,1525.7 1713.7,1525.7 1714.9,1525.7 1716.1,1525.7 1717.3,1525.7 1718.5,1525.7 1719.7,1525.7 1720.9,1525.7 1722.2,1525.7 1723.4,1525.7 1724.6,1525.7 1725.8,1525.7 1727.0,1525.7 1728.2,1525.7 1729.4,1525.7 1730.6,1525.8 1731.8,1525.8 1733.0,1525.8 1734.2,1525.8 1735.5,1525.8 1736.7,1525.8 1737.9,1525.8 1739.1,1525.8 1740.3,1525.7 1741.5,1525.7 1742.7,1525.7 1743.9,1525.7 1745.1,1525.7 1746.3,1525.7 1747.6,1525.7 1748.8,1525.6 1750.0,1525.6 1751.2,1525.5 1752.4,1525.3 1753.6,1525.1 1754.8,1524.8 1756.0,1524.4 1757.2,1523.9 1758.4,1523.2 1759.6,1522.5 1760.9,1521.6 1762.1,1520.8 1763.3,1519.9 1764.5,1519.1 1765.7,1518.6 1766.9,1518.3 1768.1,1518.3 1769.3,1518.6 1770.5,1519.2 1771.7,1520.0 1773.0,1520.8 1774.2,1521.7 1775.4,1522.6 1776.6,1523.3 1777.8,1524.0 1779.0,1524.5 1780.2,1524.9 1781.4,1525.2 1782.6,1525.4 1783.8,1525.6 1785.0,1525.7 1786.3,1525.8 1787.5,1525.8 1788.7,1525.9 1789.9,1525.9 1791.1,1525.9 1792.3,1525.9 1793.5,1526.0 1794.7,1526.0 1795.9,1526.0 1797.1,1526.0 1798.4,1526.0 1799.6,1526.0 1800.8,1526.0 1802.0,1526.0 1803.2,1526.0 1804.4,1526.1 1805.6,1526.1 1806.8,1526.1 1808.0,1526.1 1809.2,1526.1 1810.4,1526.1 1811.7,1526.1 1812.9,1526.1 1814.1,1526.1 1815.3,1526.1 1816.5,1526.1 1817.7,1526.1 1818.9,1526.1 1820.1,1526.1 1821.3,1526.1 1822.5,1526.1 1823.8,1526.1 1825.0,1526.1 1826.2,1526.1 1827.4,1526.2 1828.6,1526.2 1829.8,1526.2 1831.0,1526.2 1832.2,1526.2 1833.4,1526.2 1834.6,1526.2 1835.8,1526.2 1837.1,1526.2 1838.3,1526.2 1839.5,1526.2 1840.7,1526.2 1841.9,1526.2 1843.1,1526.2 1844.3,1526.1 1845.5,1526.1 1846.7,1526.1 1847.9,1526.1 1849.2,1526.1 1850.4,1526.1 1851.6,1526.0 1852.8,1525.9 1854.0,1525.8 1855.2,1525.6 1856.4,1525.3 1857.6,1525.0 1858.8,1524.5 1860.0,1523.9 1861.2,1523.2 1862.5,1522.4 1863.7,1521.6 1864.9,1520.7 1866.1,1519.9 1867.3,1519.2 1868.5,1518.8 1869.7,1518.6 1870.9,1518.8 1872.1,1519.3 1873.3,1520.0 1874.6,1520.8 1875.8,1521.7 1877.0,1522.5 1878.2,1523.3 1879.4,1524.0 1880.6,1524.6 1881.8,1525.1 1883.0,1525.4 1884.2,1525.7 1885.4,1525.9 1886.6,1526.0 1887.9,1526.1 1889.1,1526.2 1890.3,1526.2 1891.5,1526.2 1892.7,1526.3 1893.9,1526.3 1895.1,1526.3 1896.3,1526.3 1897.5,1526.3 1898.7,1526.3 1900.0,1526.3 1901.2,1526.4 1902.4,1526.4 1903.6,1526.4 1904.8,1526.4 1906.0,1526.4 1907.2,1526.4 1908.4,1526.4 1909.6,1526.4 1910.8,1526.4 1912.0,1526.4 1913.3,1526.4 1914.5,1526.4 1915.7,1526.4 1916.9,1526.4 1918.1,1526.4 1919.3,1526.4 1920.5,1526.4 1921.7,1526.4 1922.9,1526.4 1924.1,1526.4 1925.4,1526.4 1926.6,1526.4 1927.8,1526.4 1929.0,1526.4 1930.2,1526.4 1931.4,1526.4 1932.6,1526.4 1933.8,1526.4 1935.0,1526.4 1936.2,1526.4 1937.4,1526.4 1938.7,1526.4 1939.9,1526.4 1941.1,1526.4 1942.3,1526.4 1943.5,1526.4 1944.7,1526.4 1945.9,1526.4 1947.1,1526.4 1948.3,1526.4 1949.5,1526.4 1950.8,1526.4 1952.0,1526.4 1953.2,1526.4 1954.4,1526.4 1955.6,1526.4 1956.8,1526.4 1959.7,1526.3 1962.6,1526.3 1965.5,1526.3 1968.4,1526.2 1971.3,1526.2 1974.2,1526.2 1977.1,1526.1 1980.0,1526.1 1982.9,1526.0 1985.8,1525.9 1988.7,1525.9 1991.6,1525.8 1994.5,1525.7 1997.4,1525.6 2000.3,1525.5 2003.2,1525.4 2004.2,1525.4 2005.2,1525.3 2006.1,1525.3 2007.1,1525.2 2008.1,1525.2 2009.1,1525.1 2010.0,1525.1 2011.0,1525.0 2012.0,1524.9 2012.9,1524.9 2013.9,1524.8 2014.9,1524.7 2015.8,1524.7 2016.8,1524.6 2017.8,1524.5 2018.7,1524.4 2019.7,1524.3 2020.7,1524.2 2021.6,1524.1 2022.6,1524.0 2023.6,1523.9 2024.5,1523.8 2025.5,1523.6 2026.5,1523.5 2027.4,1523.3 2028.4,1523.2 2029.4,1523.0 2030.3,1522.8 2031.3,1522.6 2032.3,1522.4 2033.2,1522.2 2034.2,1521.9 2035.2,1521.6 2036.1,1521.4 2037.1,1521.0 2038.1,1520.7 2039.0,1520.3 2040.0,1519.9 2041.0,1519.5 2042.0,1519.0 2042.9,1518.4 2043.9,1517.8 2044.9,1517.2 2045.8,1516.4 2046.8,1515.6 2047.8,1514.7 2048.7,1513.7 2049.7,1512.5 2050.7,1511.1 2051.6,1509.6 2052.6,1507.7 2053.6,1505.4 2054.5,1502.6 2055.5,1499.1 2056.5,1494.4 2057.4,1488.3 2058.4,1480.1 2059.4,1469.1 2060.3,1454.6 2061.3,1435.8 2062.3,1412.0 2063.2,1382.8 2064.2,1348.2 2065.2,1308.7 2066.1,1265.8 2067.1,1222.0 2068.1,1181.2 2069.0,1148.6 2070.0,1129.9 2071.0,1129.0 2071.9,1146.0 2072.9,1177.4 2073.9,1217.7 2074.8,1261.4 2075.8,1304.5 2076.8,1344.4 2077.8,1379.6 2078.7,1409.3 2079.7,1433.6 2080.7,1452.9 2081.6,1467.8 2082.6,1479.1 2083.6,1487.6 2084.5,1493.9 2085.5,1498.7 2086.5,1502.3 2087.4,1505.2 2088.4,1507.5 2089.4,1509.4 2090.3,1511.0 2091.3,1512.4 2092.3,1513.6 2093.2,1514.6 2094.2,1515.5 2095.2,1516.4 2096.1,1517.1 2097.1,1517.8 2098.1,1518.4 2099.0,1518.9 2100.0,1519.4 2101.0,1519.9 2101.9,1520.3 2102.9,1520.7 2103.9,1521.0 2104.8,1521.3 2105.8,1521.6 2106.8,1521.9 2107.7,1522.1 2108.7,1522.4 2109.7,1522.6 2110.7,1522.8 2111.6,1523.0 2112.6,1523.2 2113.6,1523.3 2114.5,1523.5 2115.5,1523.6 2116.5,1523.8 2117.4,1523.9 2118.4,1524.0 2119.4,1524.1 2120.3,1524.2 2121.3,1524.3 2122.3,1524.4 2123.2,1524.5 2124.2,1524.6 2125.2,1524.7 2126.1,1524.7 2127.1,1524.8 2128.1,1524.9 2129.0,1525.0 2130.0,1525.0 2131.0,1525.1 2131.9,1525.1 2132.9,1525.2 2133.9,1525.2 2134.8,1525.3 2135.8,1525.3 2136.8,1525.4 2137.7,1525.4 2138.7,1525.5 2139.7,1525.5 2140.6,1525.5 2143.6,1525.6 2146.5,1525.7 2149.4,1525.8 2152.3,1525.9 2155.2,1526.0 2158.1,1526.0 2161.0,1526.1 2163.9,1526.1 2166.8,1526.2 2169.7,1526.2 2172.6,1526.3 2175.5,1526.3 2178.4,1526.3 2181.3,1526.4 2184.2,1526.4 2187.1,1526.4 2190.0,1526.4 2192.9,1526.5 2195.8,1526.5 2198.7,1526.5 2201.6,1526.5 2204.5,1526.5 2207.4,1526.5 2210.3,1526.6 2213.2,1526.6 2216.1,1526.6 2219.0,1526.6 2221.9,1526.6 2224.8,1526.6 2227.7,1526.6 2230.6,1526.6 2233.5,1526.7 2236.4,1526.7 2239.3,1526.7 2242.2,1526.7 2245.2,1526.7 2248.1,1526.7 2251.0,1526.7 2253.9,1526.7 2256.8,1526.7 2259.7,1526.7 2262.6,1526.7 2265.5,1526.7 2268.4,1526.7 2271.3,1526.7 2274.2,1526.7 2277.1,1526.8 2280.0,1526.8 2282.9,1526.8 2285.8,1526.8 2288.7,1526.8 2291.6,1526.8 2294.5,1526.8 2297.4,1526.8 2300.3,1526.8 2303.2,1526.8 2306.1,1526.8 2309.0,1526.8 2311.9,1526.8 2314.8,1526.8 2317.7,1526.8 2320.6,1526.8 2323.5,1526.8 2326.4,1526.8 2329.3,1526.8 2332.2,1526.8 2335.1,1526.8 2338.0,1526.8 2340.9,1526.8 2343.8,1526.8 2346.8,1526.8 2349.7,1526.8 2352.6,1526.8 2355.5,1526.8 2358.4,1526.8 2361.3,1526.8 2364.2,1526.8 2367.1,1526.8 2370.0,1526.8 2372.9,1526.8 2375.8,1526.8 2378.7,1526.8 2381.6,1526.8 2384.5,1526.8 2387.4,1526.8 2390.3,1526.9 2393.2,1526.9 2396.1,1526.9 2399.0,1526.9 2401.9,1526.9 2404.8,1526.9 2407.7,1526.9 2410.6,1526.9 2412.5,1526.9" fill="none" stroke="#00ff00" stroke-width="7.5" stroke-linejoin="round" stroke-linecap="butt"/>
<path d="M380.5,1529.6 383.4,1529.6 386.3,1529.6 389.2,1529.6 392.1,1529.5 395.0,1529.5 397.9,1529.5 400.8,1529.4 403.7,1529.4 406.6,1529.3 409.5,1529.3 412.4,1529.3 415.3,1529.2 418.2,1529.1 421.1,1529.1 424.0,1529.0 425.8,1529.0 427.5,1528.9 429.3,1528.9 431.0,1528.9 432.8,1528.8 434.5,1528.8 436.2,1528.7 438.0,1528.7 439.7,1528.6 441.5,1528.5 443.2,1528.5 444.9,1528.4 446.7,1528.3 448.4,1528.3 450.2,1528.2 451.9,1528.1 453.7,1528.0 455.4,1527.9 457.1,1527.8 458.9,1527.7 460.6,1527.6 462.4,1527.5 464.1,1527.4 465.8,1527.3 467.6,1527.1 469.3,1527.0 471.1,1526.8 472.8,1526.7 474.6,1526.5 476.3,1526.3 478.0,1526.1 479.8,1525.9 481.5,1525.7 483.3,1525.4 485.0,1525.1 486.7,1524.8 488.5,1524.5 490.2,1524.1 492.0,1523.8 493.7,1523.3 495.5,1522.9 497.2,1522.4 498.9,1521.8 500.7,1521.2 502.4,1520.5 504.2,1519.8 505.9,1518.9 507.6,1517.9 509.4,1516.9 511.1,1515.6 512.9,1514.2 514.6,1512.5 516.4,1510.5 518.1,1508.1 519.8,1505.1 521.6,1501.2 523.3,1496.0 525.1,1489.2 526.8,1480.0 528.5,1467.8 530.3,1451.8 532.0,1431.3 533.8,1405.6 535.5,1374.4 537.3,1337.9 539.0,1297.1 540.7,1253.6 542.5,1210.6 544.2,1172.5 546.0,1144.7 547.7,1132.6 549.4,1138.7 551.2,1161.8 552.9,1197.1 554.7,1239.1 556.4,1282.8 558.2,1324.7 559.9,1362.8 561.6,1395.8 563.4,1423.3 565.1,1445.5 566.9,1463.0 568.6,1476.3 570.3,1486.4 572.1,1494.0 573.8,1499.6 575.6,1503.9 577.3,1507.2 579.1,1509.8 580.8,1511.9 582.5,1513.7 584.3,1515.2 586.0,1516.5 587.8,1517.6 589.5,1518.6 591.2,1519.5 593.0,1520.3 594.7,1521.0 596.5,1521.6 598.2,1522.2 600.0,1522.7 601.7,1523.2 603.4,1523.7 605.2,1524.1 606.9,1524.4 608.7,1524.8 610.4,1525.1 612.1,1525.3 613.9,1525.6 615.6,1525.8 617.4,1526.1 619.1,1526.3 620.9,1526.5 622.6,1526.7 624.3,1526.8 626.1,1527.0 627.8,1527.1 629.6,1527.3 631.3,1527.4 633.0,1527.5 634.8,1527.6 636.5,1527.8 638.3,1527.9 640.0,1528.0 641.8,1528.1 643.5,1528.1 645.2,1528.2 647.0,1528.3 648.7,1528.4 650.5,1528.4 652.2,1528.5 653.9,1528.6 655.7,1528.6 657.4,1528.7 659.2,1528.8 660.9,1528.8 662.7,1528.9 664.4,1528.9 666.1,1529.0 667.9,1529.0 669.6,1529.0 671.4,1529.1 673.1,1529.1 674.8,1529.2 677.8,1529.2 680.7,1529.3 683.6,1529.3 686.5,1529.4 689.4,1529.4 692.3,1529.5 695.2,1529.5 698.1,1529.5 701.0,1529.6 703.9,1529.6 706.8,1529.6 709.7,1529.7 712.6,1529.7 715.5,1529.7 718.4,1529.8 721.3,1529.8 724.2,1529.8 727.1,1529.8 730.0,1529.9 732.9,1529.9 735.8,1529.9 738.7,1529.9 741.6,1529.9 744.5,1529.9 747.4,1530.0 750.3,1530.0 753.2,1530.0 756.1,1530.0 759.0,1530.0 761.9,1530.0 764.8,1530.0 767.7,1530.1 770.6,1530.1 773.5,1530.1 776.4,1530.1 779.4,1530.1 782.3,1530.1 785.2,1530.1 788.1,1530.1 791.0,1530.1 793.9,1530.1 796.8,1530.1 799.7,1530.1 802.6,1530.1 805.5,1530.2 808.4,1530.2 811.3,1530.2 814.2,1530.2 817.1,1530.2 820.0,1530.2 822.9,1530.2 825.8,1530.2 828.7,1530.2 831.6,1530.2 834.5,1530.2 837.4,1530.2 840.3,1530.2 843.2,1530.2 846.1,1530.2 849.0,1530.2 851.9,1530.2 854.8,1530.2 857.7,1530.2 860.6,1530.2 863.5,1530.2 866.4,1530.2 869.3,1530.2 872.2,1530.2 875.1,1530.2 878.0,1530.2 881.0,1530.2 883.9,1530.2 886.8,1530.2 889.7,1530.2 892.6,1530.2 895.5,1530.2 898.4,1530.2 901.3,1530.2 904.2,1530.2 907.1,1530.2 910.0,1530.2 912.9,1530.2 915.8,1530.2 918.7,1530.2 921.6,1530.2 924.5,1530.2 927.4,1530.2 930.3,1530.2 933.2,1530.2 936.1,1530.2 939.0,1530.2 941.9,1530.2 944.8,1530.2 947.7,1530.2 950.6,1530.2 953.5,1530.2 956.4,1530.2 959.3,1530.2 962.2,1530.2 965.1,1530.2 968.0,1530.2 970.9,1530.2 973.8,1530.2 976.7,1530.2 979.6,1530.1 982.6,1530.1 985.5,1530.1 988.4,1530.1 991.3,1530.1 994.2,1530.1 997.1,1530.1 1000.0,1530.1 1002.9,1530.1 1005.8,1530.1 1008.7,1530.1 1011.6,1530.1 1014.5,1530.1 1017.4,1530.0 1020.3,1530.0 1023.2,1530.0 1026.1,1530.0 1029.0,1530.0 1031.9,1530.0 1034.8,1530.0 1037.7,1530.0 1040.6,1529.9 1043.5,1529.9 1046.4,1529.9 1049.3,1529.9 1052.2,1529.9 1055.1,1529.9 1058.0,1529.8 1060.9,1529.8 1063.8,1529.8 1066.7,1529.7 1069.6,1529.7 1072.5,1529.7 1075.4,1529.6 1078.3,1529.6 1081.2,1529.5 1084.2,1529.5 1087.1,1529.4 1090.0,1529.4 1092.9,1529.3 1095.8,1529.3 1098.7,1529.2 1101.6,1529.1 1104.5,1529.1 1107.4,1529.0 1110.3,1528.9 1113.2,1528.8 1116.1,1528.6 1119.0,1528.5 1121.9,1528.3 1124.8,1528.0 1127.7,1527.7 1130.6,1527.4 1133.5,1526.9 1136.4,1526.4 1139.3,1525.7 1142.2,1524.9 1145.1,1523.9 1148.0,1522.9 1150.9,1521.7 1153.8,1520.4 1156.7,1519.2 1159.6,1518.0 1162.5,1516.9 1165.4,1516.2 1168.3,1515.8 1171.2,1515.8 1174.1,1516.3 1177.0,1517.1 1179.9,1518.0 1181.6,1518.7 1183.3,1519.3 1185.0,1519.9 1186.6,1520.5 1188.3,1521.1 1190.0,1521.7 1191.6,1522.2 1193.3,1522.6 1195.0,1523.1 1196.6,1523.4 1198.3,1523.8 1200.0,1524.1 1201.6,1524.3 1203.3,1524.5 1205.0,1524.7 1206.7,1524.8 1208.3,1524.9 1210.0,1524.9 1211.7,1524.9 1213.3,1524.9 1215.0,1524.9 1216.7,1524.8 1218.3,1524.7 1220.0,1524.6 1221.7,1524.5 1223.3,1524.3 1225.0,1524.2 1226.7,1524.0 1228.4,1523.8 1230.0,1523.5 1231.7,1523.3 1233.4,1523.0 1235.0,1522.7 1236.7,1522.3 1238.4,1522.0 1240.0,1521.6 1241.7,1521.1 1243.4,1520.6 1245.0,1520.1 1246.7,1519.5 1248.4,1518.9 1250.1,1518.2 1251.7,1517.4 1253.4,1516.5 1255.1,1515.6 1256.7,1514.5 1258.4,1513.3 1260.1,1511.9 1261.7,1510.4 1263.4,1508.6 1265.1,1506.6 1266.7,1504.2 1268.4,1501.4 1270.1,1497.9 1271.7,1493.5 1273.4,1487.7 1275.1,1480.2 1276.8,1470.2 1278.4,1456.7 1280.1,1438.9 1281.8,1415.6 1283.4,1385.8 1285.1,1348.7 1286.8,1304.1 1288.4,1252.4 1290.1,1195.1 1291.8,1134.8 1293.4,1076.3 1295.1,1026.0 1296.8,991.7 1298.5,980.1 1300.1,993.8 1301.8,1029.8 1303.5,1081.1 1304.8,1126.9 1306.1,1174.2 1307.4,1220.5 1308.7,1264.1 1310.0,1304.0 1311.3,1339.6 1312.6,1370.5 1313.9,1396.8 1315.2,1418.8 1316.5,1436.9 1317.8,1451.6 1319.1,1463.4 1320.4,1472.9 1321.8,1480.3 1323.1,1486.3 1324.4,1491.1 1325.7,1495.0 1327.0,1498.2 1328.3,1500.9 1329.6,1503.2 1330.9,1505.2 1332.2,1506.9 1333.5,1508.4 1334.8,1509.8 1336.1,1511.0 1337.4,1512.1 1338.7,1513.1 1340.0,1514.0 1341.3,1514.8 1342.7,1515.6 1344.0,1516.3 1345.3,1516.9 1346.6,1517.5 1347.9,1518.0 1349.2,1518.5 1350.5,1518.9 1351.8,1519.3 1353.1,1519.7 1354.4,1520.0 1355.7,1520.3 1357.0,1520.6 1358.3,1520.9 1359.6,1521.1 1360.9,1521.3 1362.2,1521.4 1363.6,1521.6 1364.9,1521.7 1366.2,1521.8 1367.5,1521.8 1368.8,1521.8 1370.1,1521.8 1371.4,1521.8 1372.7,1521.6 1374.0,1521.4 1375.3,1521.1 1376.6,1520.7 1377.9,1520.0 1379.2,1519.1 1380.5,1517.7 1381.8,1515.7 1383.1,1513.1 1384.5,1509.5 1385.8,1505.0 1387.1,1499.3 1388.4,1492.6 1389.7,1484.9 1391.0,1476.5 1392.3,1468.1 1393.6,1460.2 1394.9,1453.9 1396.2,1450.1 1397.5,1449.6 1398.8,1452.5 1400.1,1458.2 1401.4,1465.8 1402.7,1474.3 1404.0,1482.9 1405.4,1491.0 1406.7,1498.2 1408.0,1504.4 1409.3,1509.5 1410.6,1513.5 1411.9,1516.6 1413.2,1518.9 1414.5,1520.6 1415.8,1521.9 1417.1,1522.8 1418.4,1523.5 1419.7,1524.1 1421.0,1524.5 1422.3,1524.8 1423.6,1525.1 1424.9,1525.4 1426.3,1525.6 1427.6,1525.8 1428.9,1526.0 1430.2,1526.1 1431.5,1526.3 1432.8,1526.4 1434.1,1526.5 1435.4,1526.6 1436.7,1526.7 1438.0,1526.8 1439.3,1526.9 1440.6,1527.0 1441.9,1527.1 1443.2,1527.2 1444.5,1527.2 1445.8,1527.3 1447.2,1527.3 1448.5,1527.4 1449.8,1527.5 1451.1,1527.5 1452.4,1527.6 1453.7,1527.6 1455.0,1527.6 1456.3,1527.7 1457.6,1527.7 1458.9,1527.8 1460.2,1527.8 1461.5,1527.8 1462.8,1527.9 1464.1,1527.9 1465.4,1527.9 1466.7,1527.9 1468.1,1528.0 1469.4,1528.0 1470.7,1528.0 1472.0,1528.0 1473.3,1528.1 1474.6,1528.1 1475.9,1528.1 1477.2,1528.1 1478.5,1528.2 1479.8,1528.2 1481.1,1528.2 1482.4,1528.2 1483.7,1528.2 1485.0,1528.2 1486.3,1528.3 1487.6,1528.3 1489.0,1528.3 1490.3,1528.3 1491.6,1528.3 1494.5,1528.4 1497.4,1528.4 1500.3,1528.4 1503.2,1528.4 1506.1,1528.5 1509.0,1528.5 1511.9,1528.5 1514.8,1528.5 1517.7,1528.5 1520.6,1528.6 1523.5,1528.6 1526.4,1528.6 1529.3,1528.6 1532.2,1528.6 1535.1,1528.6 1538.0,1528.6 1540.9,1528.7 1543.8,1528.7 1546.7,1528.7 1549.6,1528.7 1552.5,1528.7 1555.4,1528.7 1558.3,1528.7 1561.2,1528.7 1564.1,1528.7 1567.0,1528.7 1569.9,1528.7 1572.8,1528.7 1575.8,1528.7 1578.7,1528.8 1581.6,1528.8 1584.5,1528.8 1587.4,1528.8 1590.3,1528.8 1593.2,1528.8 1596.1,1528.8 1599.0,1528.8 1601.9,1528.8 1604.8,1528.8 1607.7,1528.8 1610.6,1528.8 1613.5,1528.8 1616.4,1528.8 1619.3,1528.8 1622.2,1528.8 1625.1,1528.8 1628.0,1528.8 1630.9,1528.8 1632.8,1528.8 1634.8,1528.8 1636.7,1528.8 1638.6,1528.8 1640.6,1528.8 1642.5,1528.8 1644.5,1528.8 1646.4,1528.8 1648.3,1528.8 1650.3,1528.8 1652.2,1528.8 1654.1,1528.8 1656.1,1528.8 1658.0,1528.8 1659.9,1528.8 1661.9,1528.8 1663.8,1528.8 1665.7,1528.8 1667.7,1528.8 1669.6,1528.8 1671.5,1528.8 1673.5,1528.8 1675.4,1528.8 1677.4,1528.8 1679.3,1528.8 1681.2,1528.8 1683.2,1528.8 1685.1,1528.8 1687.0,1528.8 1689.0,1528.8 1690.9,1528.8 1692.8,1528.8 1694.8,1528.8 1696.7,1528.7 1698.6,1528.7 1700.6,1528.7 1702.5,1528.7 1704.4,1528.7 1706.4,1528.7 1708.3,1528.7 1710.3,1528.7 1712.2,1528.7 1714.1,1528.7 1716.1,1528.7 1718.0,1528.7 1719.9,1528.7 1721.9,1528.7 1723.8,1528.7 1725.7,1528.7 1727.7,1528.7 1729.6,1528.7 1731.5,1528.7 1733.5,1528.6 1735.4,1528.6 1737.3,1528.6 1739.3,1528.6 1741.2,1528.5 1743.1,1528.4 1745.1,1528.3 1747.0,1528.2 1749.0,1528.0 1750.9,1527.7 1752.8,1527.4 1754.8,1527.0 1756.7,1526.6 1758.6,1526.1 1760.6,1525.6 1762.5,1525.1 1764.4,1524.8 1766.4,1524.5 1768.3,1524.4 1770.2,1524.6 1772.2,1524.8 1774.1,1525.2 1776.0,1525.7 1778.0,1526.2 1779.9,1526.7 1781.9,1527.1 1783.8,1527.5 1785.7,1527.8 1787.7,1528.0 1789.6,1528.2 1791.5,1528.4 1793.5,1528.5 1795.4,1528.5 1797.3,1528.6 1799.3,1528.6 1801.2,1528.6 1803.1,1528.7 1805.1,1528.7 1807.0,1528.7 1808.9,1528.7 1810.9,1528.7 1812.8,1528.7 1814.8,1528.7 1816.7,1528.7 1818.6,1528.7 1820.6,1528.7 1822.5,1528.7 1824.4,1528.7 1826.4,1528.7 1828.3,1528.7 1830.2,1528.6 1832.2,1528.6 1834.1,1528.6 1836.0,1528.6 1838.0,1528.5 1839.9,1528.5 1841.8,1528.4 1843.8,1528.3 1845.7,1528.1 1847.7,1527.9 1849.6,1527.7 1851.5,1527.3 1853.5,1526.9 1855.4,1526.5 1857.3,1526.0 1859.3,1525.5 1861.2,1525.1 1863.1,1524.7 1865.1,1524.4 1867.0,1524.3 1868.9,1524.4 1870.9,1524.7 1872.8,1525.1 1874.7,1525.6 1876.7,1526.1 1878.6,1526.5 1880.6,1527.0 1882.5,1527.3 1884.4,1527.6 1886.2,1527.8 1887.9,1528.0 1889.6,1528.1 1891.4,1528.2 1893.1,1528.3 1894.9,1528.3 1896.6,1528.3 1898.4,1528.4 1900.1,1528.4 1901.8,1528.4 1903.6,1528.4 1905.3,1528.4 1907.1,1528.3 1908.8,1528.3 1910.5,1528.3 1912.3,1528.3 1914.0,1528.3 1915.8,1528.3 1917.5,1528.2 1919.3,1528.2 1921.0,1528.2 1922.7,1528.2 1924.5,1528.2 1926.2,1528.1 1928.0,1528.1 1929.7,1528.1 1931.4,1528.0 1933.2,1528.0 1934.9,1527.9 1936.7,1527.9 1938.4,1527.9 1940.2,1527.8 1941.9,1527.8 1943.6,1527.7 1945.4,1527.6 1947.1,1527.6 1948.9,1527.5 1950.6,1527.4 1952.3,1527.3 1954.1,1527.3 1955.8,1527.2 1957.6,1527.1 1959.3,1526.9 1961.1,1526.8 1962.8,1526.7 1964.5,1526.5 1966.3,1526.4 1968.0,1526.2 1969.8,1526.0 1971.5,1525.8 1973.2,1525.5 1975.0,1525.3 1976.7,1524.9 1978.5,1524.5 1980.2,1524.1 1982.0,1523.4 1983.7,1522.6 1985.4,1521.6 1987.2,1520.1 1988.9,1518.2 1990.7,1515.6 1992.4,1512.1 1994.1,1507.7 1995.9,1502.3 1997.6,1495.8 1999.4,1488.4 2001.1,1480.3 2002.9,1471.9 2004.6,1463.9 2006.3,1457.2 2008.1,1452.8 2009.8,1451.3 2011.6,1453.2 2013.3,1457.8 2015.1,1464.5 2016.8,1472.1 2018.5,1479.9 2020.3,1487.3 2022.0,1493.9 2023.8,1499.4 2025.5,1503.8 2027.2,1507.1 2029.0,1509.4 2030.7,1510.9 2032.5,1511.5 2034.2,1511.5 2036.0,1510.9 2037.7,1509.7 2039.4,1507.7 2041.2,1504.9 2042.9,1501.0 2044.7,1495.5 2046.4,1488.1 2048.1,1478.3 2049.9,1465.7 2051.6,1449.7 2053.4,1430.4 2055.1,1407.6 2056.9,1382.1 2058.6,1354.9 2060.3,1328.0 2062.1,1303.9 2063.8,1286.3 2065.6,1278.4 2067.3,1282.0 2069.0,1296.3 2070.8,1318.4 2072.5,1344.8 2074.3,1372.3 2076.0,1398.8 2077.8,1422.8 2079.5,1443.7 2081.2,1461.1 2083.0,1475.2 2084.7,1486.3 2086.5,1494.8 2088.2,1501.2 2089.9,1506.0 2091.7,1509.6 2093.4,1512.3 2095.2,1514.4 2096.9,1516.1 2098.7,1517.5 2100.4,1518.6 2102.1,1519.5 2103.9,1520.4 2105.6,1521.1 2107.4,1521.8 2109.1,1522.3 2110.8,1522.8 2112.6,1523.3 2114.3,1523.7 2116.1,1524.1 2117.8,1524.4 2119.6,1524.7 2121.3,1525.0 2123.0,1525.3 2124.8,1525.5 2126.5,1525.7 2128.3,1525.9 2130.0,1526.1 2131.7,1526.3 2133.5,1526.5 2135.2,1526.6 2137.0,1526.8 2138.7,1526.9 2140.5,1527.0 2142.2,1527.1 2143.9,1527.2 2145.7,1527.3 2147.4,1527.4 2149.2,1527.5 2150.9,1527.6 2152.6,1527.7 2154.4,1527.7 2156.1,1527.8 2157.9,1527.9 2159.6,1528.0 2161.4,1528.0 2163.1,1528.1 2164.8,1528.1 2166.6,1528.2 2168.3,1528.2 2170.1,1528.3 2171.8,1528.3 2173.5,1528.4 2175.3,1528.4 2177.0,1528.4 2178.8,1528.5 2180.5,1528.5 2182.3,1528.5 2184.0,1528.6 2185.7,1528.6 2187.5,1528.6 2189.2,1528.7 2191.0,1528.7 2192.7,1528.7 2195.6,1528.8 2198.5,1528.8 2201.4,1528.9 2204.3,1528.9 2207.2,1528.9 2210.1,1529.0 2213.0,1529.0 2215.9,1529.0 2218.8,1529.0 2221.7,1529.1 2224.6,1529.1 2227.5,1529.1 2230.4,1529.1 2233.3,1529.2 2236.2,1529.2 2239.2,1529.2 2242.1,1529.2 2245.0,1529.2 2247.9,1529.3 2250.8,1529.3 2253.7,1529.3 2256.6,1529.3 2259.5,1529.3 2262.4,1529.3 2265.3,1529.4 2268.2,1529.4 2271.1,1529.4 2274.0,1529.4 2276.9,1529.4 2279.8,1529.4 2282.7,1529.4 2285.6,1529.5 2288.5,1529.5 2291.4,1529.5 2294.3,1529.5 2297.2,1529.5 2300.1,1529.5 2303.0,1529.5 2305.9,1529.5 2308.8,1529.5 2311.7,1529.5 2314.6,1529.6 2317.5,1529.6 2320.4,1529.6 2323.3,1529.6 2326.2,1529.6 2329.1,1529.6 2332.0,1529.6 2334.9,1529.6 2337.8,1529.6 2340.8,1529.6 2343.7,1529.6 2346.6,1529.6 2349.5,1529.7 2352.4,1529.7 2355.3,1529.7 2358.2,1529.7 2361.1,1529.7 2364.0,1529.7 2366.9,1529.7 2369.8,1529.7 2372.7,1529.7 2375.6,1529.7 2378.5,1529.7 2381.4,1529.7 2384.3,1529.7 2387.2,1529.7 2390.1,1529.7 2393.0,1529.8 2395.9,1529.8 2398.8,1529.8 2401.7,1529.8 2404.6,1529.8 2407.5,1529.8 2410.4,1529.8 2412.5,1529.8" fill="none" stroke="#ff00ff" stroke-width="7.5" stroke-linejoin="round" stroke-linecap="butt"/>
</g>
<g id="axes" stroke="#000" stroke-width="6" fill="none">
<line x1="380.5" y1="19.6" x2="380.5" y2="1538.0"/>
<line x1="2412.5" y1="20.5" x2="2412.5" y2="1538.0"/>
<line x1="364.5" y1="22.3" x2="2413.0" y2="22.3" stroke-width="5.4"/>
<line x1="380.5" y1="1535.0" x2="2412.5" y2="1535.0"/>
<line x1="380.5" y1="1535.0" x2="380.5" y2="1566.0"/>
<line x1="525.6" y1="1535.0" x2="525.6" y2="1552.0"/>
<line x1="670.8" y1="1535.0" x2="670.8" y2="1566.0"/>
<line x1="815.9" y1="1535.0" x2="815.9" y2="1552.0"/>
<line x1="961.1" y1="1535.0" x2="961.1" y2="1566.0"/>
<line x1="1106.2" y1="1535.0" x2="1106.2" y2="1552.0"/>
<line x1="1251.4" y1="1535.0" x2="1251.4" y2="1566.0"/>
<line x1="1396.5" y1="1535.0" x2="1396.5" y2="1552.0"/>
<line x1="1541.6" y1="1535.0" x2="1541.6" y2="1566.0"/>
<line x1="1686.8" y1="1535.0" x2="1686.8" y2="1552.0"/>
<line x1="1831.9" y1="1535.0" x2="1831.9" y2="1566.0"/>
<line x1="1977.1" y1="1535.0" x2="1977.1" y2="1552.0"/>
<line x1="2122.2" y1="1535.0" x2="2122.2" y2="1566.0"/>
<line x1="2267.4" y1="1535.0" x2="2267.4" y2="1552.0"/>
<line x1="2412.5" y1="1535.0" x2="2412.5" y2="1566.0"/>
<line x1="349.5" y1="1535.0" x2="380.5" y2="1535.0"/>
<line x1="364.5" y1="1367.0" x2="380.5" y2="1367.0"/>
<line x1="349.5" y1="1199.0" x2="380.5" y2="1199.0"/>
<line x1="364.5" y1="1031.0" x2="380.5" y2="1031.0"/>
<line x1="349.5" y1="863.0" x2="380.5" y2="863.0"/>
<line x1="364.5" y1="695.0" x2="380.5" y2="695.0"/>
<line x1="349.5" y1="527.0" x2="380.5" y2="527.0"/>
<line x1="364.5" y1="359.0" x2="380.5" y2="359.0"/>
<line x1="349.5" y1="191.0" x2="380.5" y2="191.0"/>
</g>
<g id="xlabels">
<text transform="translate(379.0,1628.5) scale(1.000,1)" font-size="57.6" text-anchor="middle">10</text>
<text transform="translate(669.3,1628.5) scale(1.000,1)" font-size="57.6" text-anchor="middle">15</text>
<text transform="translate(959.6,1628.5) scale(1.000,1)" font-size="57.6" text-anchor="middle">20</text>
<text transform="translate(1249.9,1628.5) scale(1.000,1)" font-size="57.6" text-anchor="middle">25</text>
<text transform="translate(1540.1,1628.5) scale(1.000,1)" font-size="57.6" text-anchor="middle">30</text>
<text transform="translate(1830.4,1628.5) scale(1.000,1)" font-size="57.6" text-anchor="middle">35</text>
<text transform="translate(2120.7,1628.5) scale(1.000,1)" font-size="57.6" text-anchor="middle">40</text>
<text transform="translate(2411.0,1628.5) scale(1.000,1)" font-size="57.6" text-anchor="middle">45</text>
</g>
<g id="ylabels">
<text transform="translate(328.5,1549.3) scale(1.000,1)" font-size="57.6" text-anchor="end">0</text>
<text transform="translate(182.5,1221.0) scale(0.990,1)" font-size="58" text-anchor="start">1x10</text>
<text transform="translate(310.5,1188.5) scale(1.000,1)" font-size="33.5" text-anchor="start">4</text>
<text transform="translate(182.5,885.0) scale(0.990,1)" font-size="58" text-anchor="start">2x10</text>
<text transform="translate(310.5,852.5) scale(1.000,1)" font-size="33.5" text-anchor="start">4</text>
<text transform="translate(182.5,549.0) scale(0.990,1)" font-size="58" text-anchor="start">3x10</text>
<text transform="translate(310.5,516.5) scale(1.000,1)" font-size="33.5" text-anchor="start">4</text>
<text transform="translate(182.5,213.0) scale(0.990,1)" font-size="58" text-anchor="start">4x10</text>
<text transform="translate(310.5,180.5) scale(1.000,1)" font-size="33.5" text-anchor="start">4</text>
</g>
<text transform="translate(73.2,780) rotate(-90) scale(1.02,1)" text-anchor="middle" font-size="70.7">Intensity (a.u)</text>
<text x="1309" y="1747" font-size="70">2<tspan dx="3" style="font-family:'Liberation Serif',serif" font-size="70">θ</tspan><tspan dx="20" letter-spacing="2">(°)</tspan></text>
<g id="peaklabels">
<text transform="translate(561.5,116.5) scale(1.050,1)" font-size="71" text-anchor="middle">(020)</text>
<text transform="translate(1293.0,138.5) scale(1.045,1)" font-size="71" text-anchor="middle">(040)</text>
<text transform="translate(1424.0,1141.7) scale(1.035,1)" font-size="71" text-anchor="middle">(021)</text>
<text transform="translate(2058.5,924.5) scale(1.040,1)" font-size="71" text-anchor="middle">(060)</text>
</g>
<g id="legend">
<line x1="1480.5" y1="112.8" x2="1640.5" y2="112.8" stroke="#000000" stroke-width="9" stroke-linecap="round"/>
<text class="lg" x="1661" y="137.5">MoO<tspan dy="29">3</tspan><tspan dy="-29"></tspan></text>
<line x1="1480.5" y1="241.6" x2="1640.5" y2="241.6" stroke="#ff0000" stroke-width="9" stroke-linecap="round"/>
<text class="lg" x="1661" y="264.6">MoO<tspan dy="29">3</tspan><tspan dy="-29">: Ce 1% Cu 1%</tspan></text>
<line x1="1480.5" y1="368.5" x2="1640.5" y2="368.5" stroke="#0000ff" stroke-width="9" stroke-linecap="round"/>
<text class="lg" x="1661" y="391.3">MoO<tspan dy="29">3</tspan><tspan dy="-29">:Ce 1% Cu 2%</tspan></text>
<line x1="1480.5" y1="494.7" x2="1640.5" y2="494.7" stroke="#00ff00" stroke-width="9" stroke-linecap="round"/>
<text class="lg" x="1661" y="518.2">MoO<tspan dy="29">3</tspan><tspan dy="-29">: Ce 2% Cu 1%</tspan></text>
<line x1="1480.5" y1="622.0" x2="1640.5" y2="622.0" stroke="#ff00ff" stroke-width="9" stroke-linecap="round"/>
<text class="lg" x="1661" y="644.5">MoO<tspan dy="29">3</tspan><tspan dy="-29">: Ce 2% Cu 2%</tspan></text>
</g>
</svg></body></html>
